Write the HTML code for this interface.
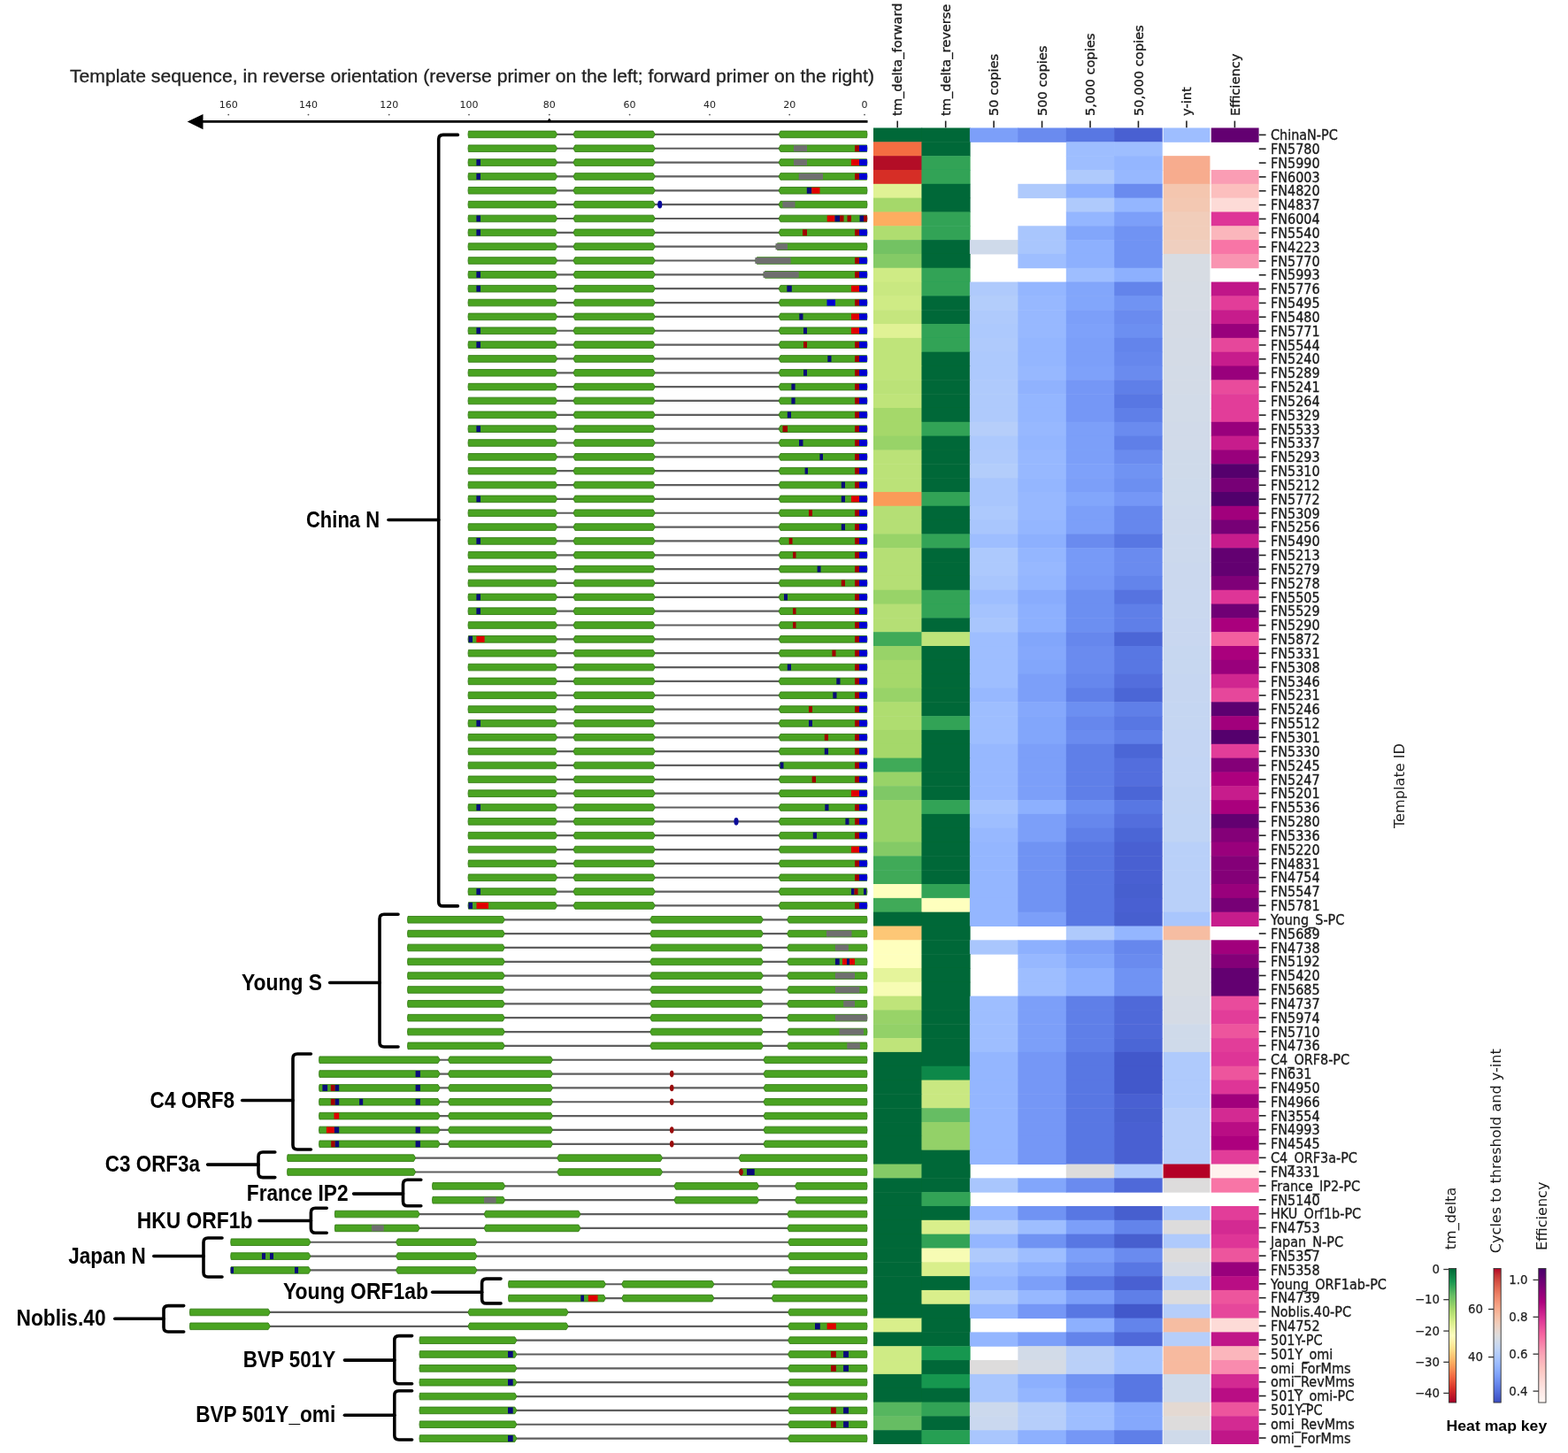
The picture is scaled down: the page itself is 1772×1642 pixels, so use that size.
<!DOCTYPE html>
<html><head><meta charset="utf-8"><title>Template sequence alignment and heat map</title>
<style>
html,body{margin:0;padding:0;background:#fff;}
body{width:1772px;height:1642px;overflow:hidden;}
svg{display:block;}
.hd{font-family:"DejaVu Sans","Liberation Sans",sans-serif;font-size:14.6px;fill:#1a1a1a;stroke:#1a1a1a;stroke-width:0.35px;}
.rl{font-family:"DejaVu Sans","Liberation Sans",sans-serif;font-size:15.6px;fill:#1a1a1a;stroke:#1a1a1a;stroke-width:0.35px;}
.gl{font-family:"Liberation Sans",Arial,sans-serif;font-weight:bold;font-size:26.5px;fill:#000;}
.tk{font-family:"DejaVu Sans","Liberation Sans",sans-serif;font-size:11px;fill:#222;}
.tt{font-family:"Liberation Sans",Arial,sans-serif;font-size:20.5px;fill:#222;stroke:#222;stroke-width:0.3px;}
.ti{font-family:"DejaVu Sans","Liberation Sans",sans-serif;font-size:15.5px;fill:#222;}
.cb{font-family:"DejaVu Sans","Liberation Sans",sans-serif;font-size:13.3px;fill:#222;stroke:#222;stroke-width:0.25px;}
.cl{font-family:"DejaVu Sans","Liberation Sans",sans-serif;font-size:15.5px;fill:#1a1a1a;}
.hk{font-family:"Liberation Sans",Arial,sans-serif;font-weight:bold;font-size:16.5px;fill:#000;}
</style></head><body>
<svg width="1772" height="1642" viewBox="0 0 1772 1642">
<defs><filter id="soft" x="-1%" y="-1%" width="102%" height="102%"><feGaussianBlur stdDeviation="0.7"/></filter></defs>
<rect width="1772" height="1642" fill="#fff"/>
<g id="heat" filter="url(#soft)">
<rect x="987" y="144.5" width="55.15" height="16.32" fill="#006837"/>
<rect x="1041.45" y="144.5" width="55.15" height="16.32" fill="#006837"/>
<rect x="1095.9" y="144.5" width="55.15" height="16.32" fill="#7b9ff9"/>
<rect x="1150.35" y="144.5" width="55.15" height="16.32" fill="#6a8bef"/>
<rect x="1204.8" y="144.5" width="55.15" height="16.32" fill="#5977e3"/>
<rect x="1259.25" y="144.5" width="54.45" height="16.32" fill="#4961d2"/>
<rect x="1314.6" y="144.5" width="52.85" height="16.32" fill="#9ebeff"/>
<rect x="1368.75" y="144.5" width="53.85" height="16.32" fill="#630171"/>
<rect x="987" y="160.32" width="55.15" height="16.32" fill="#f46d43"/>
<rect x="1041.45" y="160.32" width="55.15" height="16.32" fill="#006837"/>
<rect x="1204.8" y="160.32" width="55.15" height="16.32" fill="#9ebeff"/>
<rect x="1259.25" y="160.32" width="54.45" height="16.32" fill="#9ebeff"/>
<rect x="987" y="176.15" width="55.15" height="16.32" fill="#b30d26"/>
<rect x="1041.45" y="176.15" width="55.15" height="16.32" fill="#30a356"/>
<rect x="1204.8" y="176.15" width="55.15" height="16.32" fill="#9ebeff"/>
<rect x="1259.25" y="176.15" width="54.45" height="16.32" fill="#94b6ff"/>
<rect x="1314.6" y="176.15" width="52.85" height="16.32" fill="#f7ac8e"/>
<rect x="987" y="191.97" width="55.15" height="16.32" fill="#d62f27"/>
<rect x="1041.45" y="191.97" width="55.15" height="16.32" fill="#30a356"/>
<rect x="1204.8" y="191.97" width="55.15" height="16.32" fill="#afcafc"/>
<rect x="1259.25" y="191.97" width="54.45" height="16.32" fill="#97b8ff"/>
<rect x="1314.6" y="191.97" width="52.85" height="16.32" fill="#f7ac8e"/>
<rect x="1368.75" y="191.97" width="53.85" height="16.32" fill="#fa9db4"/>
<rect x="987" y="207.8" width="55.15" height="16.32" fill="#e0f295"/>
<rect x="1041.45" y="207.8" width="55.15" height="16.32" fill="#006837"/>
<rect x="1150.35" y="207.8" width="55.15" height="16.32" fill="#afcafc"/>
<rect x="1204.8" y="207.8" width="55.15" height="16.32" fill="#8db0fe"/>
<rect x="1259.25" y="207.8" width="54.45" height="16.32" fill="#6a8bef"/>
<rect x="1314.6" y="207.8" width="52.85" height="16.32" fill="#f4c6af"/>
<rect x="1368.75" y="207.8" width="53.85" height="16.32" fill="#fcbfbe"/>
<rect x="987" y="223.62" width="55.15" height="16.32" fill="#a5d86a"/>
<rect x="1041.45" y="223.62" width="55.15" height="16.32" fill="#006837"/>
<rect x="1204.8" y="223.62" width="55.15" height="16.32" fill="#afcafc"/>
<rect x="1259.25" y="223.62" width="54.45" height="16.32" fill="#94b6ff"/>
<rect x="1314.6" y="223.62" width="52.85" height="16.32" fill="#f3c8b2"/>
<rect x="1368.75" y="223.62" width="53.85" height="16.32" fill="#fddbd7"/>
<rect x="987" y="239.45" width="55.15" height="16.32" fill="#fdad60"/>
<rect x="1041.45" y="239.45" width="55.15" height="16.32" fill="#30a356"/>
<rect x="1204.8" y="239.45" width="55.15" height="16.32" fill="#94b6ff"/>
<rect x="1259.25" y="239.45" width="54.45" height="16.32" fill="#7b9ff9"/>
<rect x="1314.6" y="239.45" width="52.85" height="16.32" fill="#f1cdba"/>
<rect x="1368.75" y="239.45" width="53.85" height="16.32" fill="#de3697"/>
<rect x="987" y="255.27" width="55.15" height="16.32" fill="#afdd70"/>
<rect x="1041.45" y="255.27" width="55.15" height="16.32" fill="#30a356"/>
<rect x="1150.35" y="255.27" width="55.15" height="16.32" fill="#a9c6fd"/>
<rect x="1204.8" y="255.27" width="55.15" height="16.32" fill="#82a6fb"/>
<rect x="1259.25" y="255.27" width="54.45" height="16.32" fill="#7093f3"/>
<rect x="1314.6" y="255.27" width="52.85" height="16.32" fill="#f1cdba"/>
<rect x="1368.75" y="255.27" width="53.85" height="16.32" fill="#fbb6bc"/>
<rect x="987" y="271.1" width="55.15" height="16.32" fill="#73c264"/>
<rect x="1041.45" y="271.1" width="55.15" height="16.32" fill="#006837"/>
<rect x="1095.9" y="271.1" width="55.15" height="16.32" fill="#cfdaea"/>
<rect x="1150.35" y="271.1" width="55.15" height="16.32" fill="#a9c6fd"/>
<rect x="1204.8" y="271.1" width="55.15" height="16.32" fill="#8db0fe"/>
<rect x="1259.25" y="271.1" width="54.45" height="16.32" fill="#7093f3"/>
<rect x="1314.6" y="271.1" width="52.85" height="16.32" fill="#efcfbf"/>
<rect x="1368.75" y="271.1" width="53.85" height="16.32" fill="#f875a6"/>
<rect x="987" y="286.92" width="55.15" height="16.32" fill="#84ca66"/>
<rect x="1041.45" y="286.92" width="55.15" height="16.32" fill="#006837"/>
<rect x="1150.35" y="286.92" width="55.15" height="16.32" fill="#9ebeff"/>
<rect x="1204.8" y="286.92" width="55.15" height="16.32" fill="#8db0fe"/>
<rect x="1259.25" y="286.92" width="54.45" height="16.32" fill="#7093f3"/>
<rect x="1314.6" y="286.92" width="52.85" height="16.32" fill="#d7dce3"/>
<rect x="1368.75" y="286.92" width="53.85" height="16.32" fill="#f994b1"/>
<rect x="987" y="302.74" width="55.15" height="16.32" fill="#cfeb85"/>
<rect x="1041.45" y="302.74" width="55.15" height="16.32" fill="#30a356"/>
<rect x="1204.8" y="302.74" width="55.15" height="16.32" fill="#9ebeff"/>
<rect x="1259.25" y="302.74" width="54.45" height="16.32" fill="#8db0fe"/>
<rect x="1314.6" y="302.74" width="52.85" height="16.32" fill="#d7dce3"/>
<rect x="987" y="318.57" width="55.15" height="16.32" fill="#c9e881"/>
<rect x="1041.45" y="318.57" width="55.15" height="16.32" fill="#30a356"/>
<rect x="1095.9" y="318.57" width="55.15" height="16.32" fill="#afcafc"/>
<rect x="1150.35" y="318.57" width="55.15" height="16.32" fill="#94b6ff"/>
<rect x="1204.8" y="318.57" width="55.15" height="16.32" fill="#82a6fb"/>
<rect x="1259.25" y="318.57" width="54.45" height="16.32" fill="#6384eb"/>
<rect x="1314.6" y="318.57" width="52.85" height="16.32" fill="#d6dce4"/>
<rect x="1368.75" y="318.57" width="53.85" height="16.32" fill="#c01588"/>
<rect x="987" y="334.39" width="55.15" height="16.32" fill="#cfeb85"/>
<rect x="1041.45" y="334.39" width="55.15" height="16.32" fill="#006837"/>
<rect x="1095.9" y="334.39" width="55.15" height="16.32" fill="#b3cdfb"/>
<rect x="1150.35" y="334.39" width="55.15" height="16.32" fill="#97b8ff"/>
<rect x="1204.8" y="334.39" width="55.15" height="16.32" fill="#82a6fb"/>
<rect x="1259.25" y="334.39" width="54.45" height="16.32" fill="#7093f3"/>
<rect x="1314.6" y="334.39" width="52.85" height="16.32" fill="#d6dce4"/>
<rect x="1368.75" y="334.39" width="53.85" height="16.32" fill="#e23e99"/>
<rect x="987" y="350.22" width="55.15" height="16.32" fill="#c5e67e"/>
<rect x="1041.45" y="350.22" width="55.15" height="16.32" fill="#006837"/>
<rect x="1095.9" y="350.22" width="55.15" height="16.32" fill="#afcafc"/>
<rect x="1150.35" y="350.22" width="55.15" height="16.32" fill="#97b8ff"/>
<rect x="1204.8" y="350.22" width="55.15" height="16.32" fill="#7b9ff9"/>
<rect x="1259.25" y="350.22" width="54.45" height="16.32" fill="#6a8bef"/>
<rect x="1314.6" y="350.22" width="52.85" height="16.32" fill="#d5dbe5"/>
<rect x="1368.75" y="350.22" width="53.85" height="16.32" fill="#c71d8c"/>
<rect x="987" y="366.04" width="55.15" height="16.32" fill="#e0f295"/>
<rect x="1041.45" y="366.04" width="55.15" height="16.32" fill="#30a356"/>
<rect x="1095.9" y="366.04" width="55.15" height="16.32" fill="#adc9fd"/>
<rect x="1150.35" y="366.04" width="55.15" height="16.32" fill="#97b8ff"/>
<rect x="1204.8" y="366.04" width="55.15" height="16.32" fill="#7ea1fa"/>
<rect x="1259.25" y="366.04" width="54.45" height="16.32" fill="#6c8ff1"/>
<rect x="1314.6" y="366.04" width="52.85" height="16.32" fill="#d5dbe5"/>
<rect x="1368.75" y="366.04" width="53.85" height="16.32" fill="#99017b"/>
<rect x="987" y="381.87" width="55.15" height="16.32" fill="#bfe47a"/>
<rect x="1041.45" y="381.87" width="55.15" height="16.32" fill="#30a356"/>
<rect x="1095.9" y="381.87" width="55.15" height="16.32" fill="#afcafc"/>
<rect x="1150.35" y="381.87" width="55.15" height="16.32" fill="#94b6ff"/>
<rect x="1204.8" y="381.87" width="55.15" height="16.32" fill="#7b9ff9"/>
<rect x="1259.25" y="381.87" width="54.45" height="16.32" fill="#6384eb"/>
<rect x="1314.6" y="381.87" width="52.85" height="16.32" fill="#d4dbe6"/>
<rect x="1368.75" y="381.87" width="53.85" height="16.32" fill="#e6479b"/>
<rect x="987" y="397.69" width="55.15" height="16.32" fill="#bfe47a"/>
<rect x="1041.45" y="397.69" width="55.15" height="16.32" fill="#006837"/>
<rect x="1095.9" y="397.69" width="55.15" height="16.32" fill="#adc9fd"/>
<rect x="1150.35" y="397.69" width="55.15" height="16.32" fill="#94b6ff"/>
<rect x="1204.8" y="397.69" width="55.15" height="16.32" fill="#7b9ff9"/>
<rect x="1259.25" y="397.69" width="54.45" height="16.32" fill="#6687ed"/>
<rect x="1314.6" y="397.69" width="52.85" height="16.32" fill="#d4dbe6"/>
<rect x="1368.75" y="397.69" width="53.85" height="16.32" fill="#c71d8c"/>
<rect x="987" y="413.52" width="55.15" height="16.32" fill="#bfe47a"/>
<rect x="1041.45" y="413.52" width="55.15" height="16.32" fill="#006837"/>
<rect x="1095.9" y="413.52" width="55.15" height="16.32" fill="#adc9fd"/>
<rect x="1150.35" y="413.52" width="55.15" height="16.32" fill="#97b8ff"/>
<rect x="1204.8" y="413.52" width="55.15" height="16.32" fill="#7ea1fa"/>
<rect x="1259.25" y="413.52" width="54.45" height="16.32" fill="#6a8bef"/>
<rect x="1314.6" y="413.52" width="52.85" height="16.32" fill="#d3dbe7"/>
<rect x="1368.75" y="413.52" width="53.85" height="16.32" fill="#99017b"/>
<rect x="987" y="429.34" width="55.15" height="16.32" fill="#bbe278"/>
<rect x="1041.45" y="429.34" width="55.15" height="16.32" fill="#006837"/>
<rect x="1095.9" y="429.34" width="55.15" height="16.32" fill="#afcafc"/>
<rect x="1150.35" y="429.34" width="55.15" height="16.32" fill="#90b2fe"/>
<rect x="1204.8" y="429.34" width="55.15" height="16.32" fill="#7597f6"/>
<rect x="1259.25" y="429.34" width="54.45" height="16.32" fill="#5f7fe8"/>
<rect x="1314.6" y="429.34" width="52.85" height="16.32" fill="#d3dbe7"/>
<rect x="1368.75" y="429.34" width="53.85" height="16.32" fill="#e94b9c"/>
<rect x="987" y="445.16" width="55.15" height="16.32" fill="#bfe47a"/>
<rect x="1041.45" y="445.16" width="55.15" height="16.32" fill="#006837"/>
<rect x="1095.9" y="445.16" width="55.15" height="16.32" fill="#afcafc"/>
<rect x="1150.35" y="445.16" width="55.15" height="16.32" fill="#94b6ff"/>
<rect x="1204.8" y="445.16" width="55.15" height="16.32" fill="#7597f6"/>
<rect x="1259.25" y="445.16" width="54.45" height="16.32" fill="#5977e3"/>
<rect x="1314.6" y="445.16" width="52.85" height="16.32" fill="#d2dbe8"/>
<rect x="1368.75" y="445.16" width="53.85" height="16.32" fill="#e23e99"/>
<rect x="987" y="460.99" width="55.15" height="16.32" fill="#a5d86a"/>
<rect x="1041.45" y="460.99" width="55.15" height="16.32" fill="#006837"/>
<rect x="1095.9" y="460.99" width="55.15" height="16.32" fill="#afcafc"/>
<rect x="1150.35" y="460.99" width="55.15" height="16.32" fill="#94b6ff"/>
<rect x="1204.8" y="460.99" width="55.15" height="16.32" fill="#7597f6"/>
<rect x="1259.25" y="460.99" width="54.45" height="16.32" fill="#5f7fe8"/>
<rect x="1314.6" y="460.99" width="52.85" height="16.32" fill="#d2dbe8"/>
<rect x="1368.75" y="460.99" width="53.85" height="16.32" fill="#e23e99"/>
<rect x="987" y="476.81" width="55.15" height="16.32" fill="#a5d86a"/>
<rect x="1041.45" y="476.81" width="55.15" height="16.32" fill="#30a356"/>
<rect x="1095.9" y="476.81" width="55.15" height="16.32" fill="#b6cefa"/>
<rect x="1150.35" y="476.81" width="55.15" height="16.32" fill="#97b8ff"/>
<rect x="1204.8" y="476.81" width="55.15" height="16.32" fill="#7b9ff9"/>
<rect x="1259.25" y="476.81" width="54.45" height="16.32" fill="#6a8bef"/>
<rect x="1314.6" y="476.81" width="52.85" height="16.32" fill="#d1dae9"/>
<rect x="1368.75" y="476.81" width="53.85" height="16.32" fill="#99017b"/>
<rect x="987" y="492.64" width="55.15" height="16.32" fill="#98d368"/>
<rect x="1041.45" y="492.64" width="55.15" height="16.32" fill="#006837"/>
<rect x="1095.9" y="492.64" width="55.15" height="16.32" fill="#adc9fd"/>
<rect x="1150.35" y="492.64" width="55.15" height="16.32" fill="#94b6ff"/>
<rect x="1204.8" y="492.64" width="55.15" height="16.32" fill="#7b9ff9"/>
<rect x="1259.25" y="492.64" width="54.45" height="16.32" fill="#5f7fe8"/>
<rect x="1314.6" y="492.64" width="52.85" height="16.32" fill="#d1dae9"/>
<rect x="1368.75" y="492.64" width="53.85" height="16.32" fill="#c71d8c"/>
<rect x="987" y="508.46" width="55.15" height="16.32" fill="#bbe278"/>
<rect x="1041.45" y="508.46" width="55.15" height="16.32" fill="#006837"/>
<rect x="1095.9" y="508.46" width="55.15" height="16.32" fill="#afcafc"/>
<rect x="1150.35" y="508.46" width="55.15" height="16.32" fill="#97b8ff"/>
<rect x="1204.8" y="508.46" width="55.15" height="16.32" fill="#7b9ff9"/>
<rect x="1259.25" y="508.46" width="54.45" height="16.32" fill="#6a8bef"/>
<rect x="1314.6" y="508.46" width="52.85" height="16.32" fill="#cfdaea"/>
<rect x="1368.75" y="508.46" width="53.85" height="16.32" fill="#99017b"/>
<rect x="987" y="524.29" width="55.15" height="16.32" fill="#bbe278"/>
<rect x="1041.45" y="524.29" width="55.15" height="16.32" fill="#006837"/>
<rect x="1095.9" y="524.29" width="55.15" height="16.32" fill="#b3cdfb"/>
<rect x="1150.35" y="524.29" width="55.15" height="16.32" fill="#97b8ff"/>
<rect x="1204.8" y="524.29" width="55.15" height="16.32" fill="#7ea1fa"/>
<rect x="1259.25" y="524.29" width="54.45" height="16.32" fill="#7093f3"/>
<rect x="1314.6" y="524.29" width="52.85" height="16.32" fill="#cfdaea"/>
<rect x="1368.75" y="524.29" width="53.85" height="16.32" fill="#54006d"/>
<rect x="987" y="540.11" width="55.15" height="16.32" fill="#bbe278"/>
<rect x="1041.45" y="540.11" width="55.15" height="16.32" fill="#006837"/>
<rect x="1095.9" y="540.11" width="55.15" height="16.32" fill="#a9c6fd"/>
<rect x="1150.35" y="540.11" width="55.15" height="16.32" fill="#94b6ff"/>
<rect x="1204.8" y="540.11" width="55.15" height="16.32" fill="#7b9ff9"/>
<rect x="1259.25" y="540.11" width="54.45" height="16.32" fill="#6c8ff1"/>
<rect x="1314.6" y="540.11" width="52.85" height="16.32" fill="#cedaeb"/>
<rect x="1368.75" y="540.11" width="53.85" height="16.32" fill="#770176"/>
<rect x="987" y="555.94" width="55.15" height="16.32" fill="#fa9b58"/>
<rect x="1041.45" y="555.94" width="55.15" height="16.32" fill="#30a356"/>
<rect x="1095.9" y="555.94" width="55.15" height="16.32" fill="#a9c6fd"/>
<rect x="1150.35" y="555.94" width="55.15" height="16.32" fill="#97b8ff"/>
<rect x="1204.8" y="555.94" width="55.15" height="16.32" fill="#82a6fb"/>
<rect x="1259.25" y="555.94" width="54.45" height="16.32" fill="#7597f6"/>
<rect x="1314.6" y="555.94" width="52.85" height="16.32" fill="#cedaeb"/>
<rect x="1368.75" y="555.94" width="53.85" height="16.32" fill="#51006c"/>
<rect x="987" y="571.76" width="55.15" height="16.32" fill="#b5df74"/>
<rect x="1041.45" y="571.76" width="55.15" height="16.32" fill="#006837"/>
<rect x="1095.9" y="571.76" width="55.15" height="16.32" fill="#adc9fd"/>
<rect x="1150.35" y="571.76" width="55.15" height="16.32" fill="#97b8ff"/>
<rect x="1204.8" y="571.76" width="55.15" height="16.32" fill="#7b9ff9"/>
<rect x="1259.25" y="571.76" width="54.45" height="16.32" fill="#6687ed"/>
<rect x="1314.6" y="571.76" width="52.85" height="16.32" fill="#cdd9ec"/>
<rect x="1368.75" y="571.76" width="53.85" height="16.32" fill="#a1017c"/>
<rect x="987" y="587.59" width="55.15" height="16.32" fill="#b5df74"/>
<rect x="1041.45" y="587.59" width="55.15" height="16.32" fill="#006837"/>
<rect x="1095.9" y="587.59" width="55.15" height="16.32" fill="#a9c6fd"/>
<rect x="1150.35" y="587.59" width="55.15" height="16.32" fill="#94b6ff"/>
<rect x="1204.8" y="587.59" width="55.15" height="16.32" fill="#7b9ff9"/>
<rect x="1259.25" y="587.59" width="54.45" height="16.32" fill="#6687ed"/>
<rect x="1314.6" y="587.59" width="52.85" height="16.32" fill="#cdd9ec"/>
<rect x="1368.75" y="587.59" width="53.85" height="16.32" fill="#770176"/>
<rect x="987" y="603.41" width="55.15" height="16.32" fill="#98d368"/>
<rect x="1041.45" y="603.41" width="55.15" height="16.32" fill="#30a356"/>
<rect x="1095.9" y="603.41" width="55.15" height="16.32" fill="#9ebeff"/>
<rect x="1150.35" y="603.41" width="55.15" height="16.32" fill="#8db0fe"/>
<rect x="1204.8" y="603.41" width="55.15" height="16.32" fill="#6a8bef"/>
<rect x="1259.25" y="603.41" width="54.45" height="16.32" fill="#5977e3"/>
<rect x="1314.6" y="603.41" width="52.85" height="16.32" fill="#ccd9ed"/>
<rect x="1368.75" y="603.41" width="53.85" height="16.32" fill="#c71d8c"/>
<rect x="987" y="619.23" width="55.15" height="16.32" fill="#b5df74"/>
<rect x="1041.45" y="619.23" width="55.15" height="16.32" fill="#006837"/>
<rect x="1095.9" y="619.23" width="55.15" height="16.32" fill="#adc9fd"/>
<rect x="1150.35" y="619.23" width="55.15" height="16.32" fill="#94b6ff"/>
<rect x="1204.8" y="619.23" width="55.15" height="16.32" fill="#779af7"/>
<rect x="1259.25" y="619.23" width="54.45" height="16.32" fill="#6a8bef"/>
<rect x="1314.6" y="619.23" width="52.85" height="16.32" fill="#ccd9ed"/>
<rect x="1368.75" y="619.23" width="53.85" height="16.32" fill="#630171"/>
<rect x="987" y="635.06" width="55.15" height="16.32" fill="#b5df74"/>
<rect x="1041.45" y="635.06" width="55.15" height="16.32" fill="#006837"/>
<rect x="1095.9" y="635.06" width="55.15" height="16.32" fill="#adc9fd"/>
<rect x="1150.35" y="635.06" width="55.15" height="16.32" fill="#97b8ff"/>
<rect x="1204.8" y="635.06" width="55.15" height="16.32" fill="#779af7"/>
<rect x="1259.25" y="635.06" width="54.45" height="16.32" fill="#6a8bef"/>
<rect x="1314.6" y="635.06" width="52.85" height="16.32" fill="#cbd8ee"/>
<rect x="1368.75" y="635.06" width="53.85" height="16.32" fill="#630171"/>
<rect x="987" y="650.88" width="55.15" height="16.32" fill="#b5df74"/>
<rect x="1041.45" y="650.88" width="55.15" height="16.32" fill="#006837"/>
<rect x="1095.9" y="650.88" width="55.15" height="16.32" fill="#a9c6fd"/>
<rect x="1150.35" y="650.88" width="55.15" height="16.32" fill="#94b6ff"/>
<rect x="1204.8" y="650.88" width="55.15" height="16.32" fill="#7597f6"/>
<rect x="1259.25" y="650.88" width="54.45" height="16.32" fill="#6384eb"/>
<rect x="1314.6" y="650.88" width="52.85" height="16.32" fill="#cbd8ee"/>
<rect x="1368.75" y="650.88" width="53.85" height="16.32" fill="#7f0178"/>
<rect x="987" y="666.71" width="55.15" height="16.32" fill="#98d368"/>
<rect x="1041.45" y="666.71" width="55.15" height="16.32" fill="#30a356"/>
<rect x="1095.9" y="666.71" width="55.15" height="16.32" fill="#9ebeff"/>
<rect x="1150.35" y="666.71" width="55.15" height="16.32" fill="#89acfd"/>
<rect x="1204.8" y="666.71" width="55.15" height="16.32" fill="#6c8ff1"/>
<rect x="1259.25" y="666.71" width="54.45" height="16.32" fill="#5673e0"/>
<rect x="1314.6" y="666.71" width="52.85" height="16.32" fill="#cad8ef"/>
<rect x="1368.75" y="666.71" width="53.85" height="16.32" fill="#de3697"/>
<rect x="987" y="682.53" width="55.15" height="16.32" fill="#b5df74"/>
<rect x="1041.45" y="682.53" width="55.15" height="16.32" fill="#30a356"/>
<rect x="1095.9" y="682.53" width="55.15" height="16.32" fill="#a5c3fe"/>
<rect x="1150.35" y="682.53" width="55.15" height="16.32" fill="#8db0fe"/>
<rect x="1204.8" y="682.53" width="55.15" height="16.32" fill="#6c8ff1"/>
<rect x="1259.25" y="682.53" width="54.45" height="16.32" fill="#5f7fe8"/>
<rect x="1314.6" y="682.53" width="52.85" height="16.32" fill="#cad8ef"/>
<rect x="1368.75" y="682.53" width="53.85" height="16.32" fill="#6f0174"/>
<rect x="987" y="698.36" width="55.15" height="16.32" fill="#b5df74"/>
<rect x="1041.45" y="698.36" width="55.15" height="16.32" fill="#006837"/>
<rect x="1095.9" y="698.36" width="55.15" height="16.32" fill="#a9c6fd"/>
<rect x="1150.35" y="698.36" width="55.15" height="16.32" fill="#8db0fe"/>
<rect x="1204.8" y="698.36" width="55.15" height="16.32" fill="#6c8ff1"/>
<rect x="1259.25" y="698.36" width="54.45" height="16.32" fill="#5f7fe8"/>
<rect x="1314.6" y="698.36" width="52.85" height="16.32" fill="#c9d7f0"/>
<rect x="1368.75" y="698.36" width="53.85" height="16.32" fill="#aa017d"/>
<rect x="987" y="714.18" width="55.15" height="16.32" fill="#3faa59"/>
<rect x="1041.45" y="714.18" width="55.15" height="16.32" fill="#bfe47a"/>
<rect x="1095.9" y="714.18" width="55.15" height="16.32" fill="#9ebeff"/>
<rect x="1150.35" y="714.18" width="55.15" height="16.32" fill="#82a6fb"/>
<rect x="1204.8" y="714.18" width="55.15" height="16.32" fill="#6687ed"/>
<rect x="1259.25" y="714.18" width="54.45" height="16.32" fill="#4c66d6"/>
<rect x="1314.6" y="714.18" width="52.85" height="16.32" fill="#c9d7f0"/>
<rect x="1368.75" y="714.18" width="53.85" height="16.32" fill="#f35f9f"/>
<rect x="987" y="730.01" width="55.15" height="16.32" fill="#98d368"/>
<rect x="1041.45" y="730.01" width="55.15" height="16.32" fill="#006837"/>
<rect x="1095.9" y="730.01" width="55.15" height="16.32" fill="#9ebeff"/>
<rect x="1150.35" y="730.01" width="55.15" height="16.32" fill="#85a8fc"/>
<rect x="1204.8" y="730.01" width="55.15" height="16.32" fill="#6a8bef"/>
<rect x="1259.25" y="730.01" width="54.45" height="16.32" fill="#5977e3"/>
<rect x="1314.6" y="730.01" width="52.85" height="16.32" fill="#c7d7f0"/>
<rect x="1368.75" y="730.01" width="53.85" height="16.32" fill="#aa017d"/>
<rect x="987" y="745.83" width="55.15" height="16.32" fill="#a5d86a"/>
<rect x="1041.45" y="745.83" width="55.15" height="16.32" fill="#006837"/>
<rect x="1095.9" y="745.83" width="55.15" height="16.32" fill="#9ebeff"/>
<rect x="1150.35" y="745.83" width="55.15" height="16.32" fill="#82a6fb"/>
<rect x="1204.8" y="745.83" width="55.15" height="16.32" fill="#6a8bef"/>
<rect x="1259.25" y="745.83" width="54.45" height="16.32" fill="#5977e3"/>
<rect x="1314.6" y="745.83" width="52.85" height="16.32" fill="#c7d7f0"/>
<rect x="1368.75" y="745.83" width="53.85" height="16.32" fill="#99017b"/>
<rect x="987" y="761.65" width="55.15" height="16.32" fill="#a5d86a"/>
<rect x="1041.45" y="761.65" width="55.15" height="16.32" fill="#006837"/>
<rect x="1095.9" y="761.65" width="55.15" height="16.32" fill="#9ebeff"/>
<rect x="1150.35" y="761.65" width="55.15" height="16.32" fill="#7b9ff9"/>
<rect x="1204.8" y="761.65" width="55.15" height="16.32" fill="#6687ed"/>
<rect x="1259.25" y="761.65" width="54.45" height="16.32" fill="#536edd"/>
<rect x="1314.6" y="761.65" width="52.85" height="16.32" fill="#c6d6f1"/>
<rect x="1368.75" y="761.65" width="53.85" height="16.32" fill="#d02690"/>
<rect x="987" y="777.48" width="55.15" height="16.32" fill="#98d368"/>
<rect x="1041.45" y="777.48" width="55.15" height="16.32" fill="#006837"/>
<rect x="1095.9" y="777.48" width="55.15" height="16.32" fill="#97b8ff"/>
<rect x="1150.35" y="777.48" width="55.15" height="16.32" fill="#7b9ff9"/>
<rect x="1204.8" y="777.48" width="55.15" height="16.32" fill="#5f7fe8"/>
<rect x="1259.25" y="777.48" width="54.45" height="16.32" fill="#4c66d6"/>
<rect x="1314.6" y="777.48" width="52.85" height="16.32" fill="#c6d6f1"/>
<rect x="1368.75" y="777.48" width="53.85" height="16.32" fill="#e6479b"/>
<rect x="987" y="793.3" width="55.15" height="16.32" fill="#afdd70"/>
<rect x="1041.45" y="793.3" width="55.15" height="16.32" fill="#006837"/>
<rect x="1095.9" y="793.3" width="55.15" height="16.32" fill="#9ebeff"/>
<rect x="1150.35" y="793.3" width="55.15" height="16.32" fill="#85a8fc"/>
<rect x="1204.8" y="793.3" width="55.15" height="16.32" fill="#6c8ff1"/>
<rect x="1259.25" y="793.3" width="54.45" height="16.32" fill="#5f7fe8"/>
<rect x="1314.6" y="793.3" width="52.85" height="16.32" fill="#c5d6f2"/>
<rect x="1368.75" y="793.3" width="53.85" height="16.32" fill="#5b006f"/>
<rect x="987" y="809.13" width="55.15" height="16.32" fill="#afdd70"/>
<rect x="1041.45" y="809.13" width="55.15" height="16.32" fill="#30a356"/>
<rect x="1095.9" y="809.13" width="55.15" height="16.32" fill="#9ebeff"/>
<rect x="1150.35" y="809.13" width="55.15" height="16.32" fill="#82a6fb"/>
<rect x="1204.8" y="809.13" width="55.15" height="16.32" fill="#6687ed"/>
<rect x="1259.25" y="809.13" width="54.45" height="16.32" fill="#5977e3"/>
<rect x="1314.6" y="809.13" width="52.85" height="16.32" fill="#c5d6f2"/>
<rect x="1368.75" y="809.13" width="53.85" height="16.32" fill="#a1017c"/>
<rect x="987" y="824.95" width="55.15" height="16.32" fill="#a5d86a"/>
<rect x="1041.45" y="824.95" width="55.15" height="16.32" fill="#006837"/>
<rect x="1095.9" y="824.95" width="55.15" height="16.32" fill="#9ebeff"/>
<rect x="1150.35" y="824.95" width="55.15" height="16.32" fill="#82a6fb"/>
<rect x="1204.8" y="824.95" width="55.15" height="16.32" fill="#6a8bef"/>
<rect x="1259.25" y="824.95" width="54.45" height="16.32" fill="#5f7fe8"/>
<rect x="1314.6" y="824.95" width="52.85" height="16.32" fill="#c4d5f3"/>
<rect x="1368.75" y="824.95" width="53.85" height="16.32" fill="#54006d"/>
<rect x="987" y="840.78" width="55.15" height="16.32" fill="#a5d86a"/>
<rect x="1041.45" y="840.78" width="55.15" height="16.32" fill="#006837"/>
<rect x="1095.9" y="840.78" width="55.15" height="16.32" fill="#97b8ff"/>
<rect x="1150.35" y="840.78" width="55.15" height="16.32" fill="#7b9ff9"/>
<rect x="1204.8" y="840.78" width="55.15" height="16.32" fill="#5f7fe8"/>
<rect x="1259.25" y="840.78" width="54.45" height="16.32" fill="#4c66d6"/>
<rect x="1314.6" y="840.78" width="52.85" height="16.32" fill="#c4d5f3"/>
<rect x="1368.75" y="840.78" width="53.85" height="16.32" fill="#e23e99"/>
<rect x="987" y="856.6" width="55.15" height="16.32" fill="#3faa59"/>
<rect x="1041.45" y="856.6" width="55.15" height="16.32" fill="#006837"/>
<rect x="1095.9" y="856.6" width="55.15" height="16.32" fill="#97b8ff"/>
<rect x="1150.35" y="856.6" width="55.15" height="16.32" fill="#7b9ff9"/>
<rect x="1204.8" y="856.6" width="55.15" height="16.32" fill="#5f7fe8"/>
<rect x="1259.25" y="856.6" width="54.45" height="16.32" fill="#536edd"/>
<rect x="1314.6" y="856.6" width="52.85" height="16.32" fill="#c3d5f4"/>
<rect x="1368.75" y="856.6" width="53.85" height="16.32" fill="#840178"/>
<rect x="987" y="872.43" width="55.15" height="16.32" fill="#98d368"/>
<rect x="1041.45" y="872.43" width="55.15" height="16.32" fill="#006837"/>
<rect x="1095.9" y="872.43" width="55.15" height="16.32" fill="#97b8ff"/>
<rect x="1150.35" y="872.43" width="55.15" height="16.32" fill="#7b9ff9"/>
<rect x="1204.8" y="872.43" width="55.15" height="16.32" fill="#5f7fe8"/>
<rect x="1259.25" y="872.43" width="54.45" height="16.32" fill="#536edd"/>
<rect x="1314.6" y="872.43" width="52.85" height="16.32" fill="#c3d5f4"/>
<rect x="1368.75" y="872.43" width="53.85" height="16.32" fill="#ad017e"/>
<rect x="987" y="888.25" width="55.15" height="16.32" fill="#7fc866"/>
<rect x="1041.45" y="888.25" width="55.15" height="16.32" fill="#006837"/>
<rect x="1095.9" y="888.25" width="55.15" height="16.32" fill="#97b8ff"/>
<rect x="1150.35" y="888.25" width="55.15" height="16.32" fill="#7b9ff9"/>
<rect x="1204.8" y="888.25" width="55.15" height="16.32" fill="#5f7fe8"/>
<rect x="1259.25" y="888.25" width="54.45" height="16.32" fill="#4c66d6"/>
<rect x="1314.6" y="888.25" width="52.85" height="16.32" fill="#c1d4f4"/>
<rect x="1368.75" y="888.25" width="53.85" height="16.32" fill="#c71d8c"/>
<rect x="987" y="904.07" width="55.15" height="16.32" fill="#98d368"/>
<rect x="1041.45" y="904.07" width="55.15" height="16.32" fill="#30a356"/>
<rect x="1095.9" y="904.07" width="55.15" height="16.32" fill="#a5c3fe"/>
<rect x="1150.35" y="904.07" width="55.15" height="16.32" fill="#8db0fe"/>
<rect x="1204.8" y="904.07" width="55.15" height="16.32" fill="#6c8ff1"/>
<rect x="1259.25" y="904.07" width="54.45" height="16.32" fill="#5977e3"/>
<rect x="1314.6" y="904.07" width="52.85" height="16.32" fill="#c1d4f4"/>
<rect x="1368.75" y="904.07" width="53.85" height="16.32" fill="#aa017d"/>
<rect x="987" y="919.9" width="55.15" height="16.32" fill="#98d368"/>
<rect x="1041.45" y="919.9" width="55.15" height="16.32" fill="#006837"/>
<rect x="1095.9" y="919.9" width="55.15" height="16.32" fill="#9ebeff"/>
<rect x="1150.35" y="919.9" width="55.15" height="16.32" fill="#7b9ff9"/>
<rect x="1204.8" y="919.9" width="55.15" height="16.32" fill="#6687ed"/>
<rect x="1259.25" y="919.9" width="54.45" height="16.32" fill="#536edd"/>
<rect x="1314.6" y="919.9" width="52.85" height="16.32" fill="#c0d4f5"/>
<rect x="1368.75" y="919.9" width="53.85" height="16.32" fill="#630171"/>
<rect x="987" y="935.72" width="55.15" height="16.32" fill="#98d368"/>
<rect x="1041.45" y="935.72" width="55.15" height="16.32" fill="#006837"/>
<rect x="1095.9" y="935.72" width="55.15" height="16.32" fill="#97b8ff"/>
<rect x="1150.35" y="935.72" width="55.15" height="16.32" fill="#7b9ff9"/>
<rect x="1204.8" y="935.72" width="55.15" height="16.32" fill="#5f7fe8"/>
<rect x="1259.25" y="935.72" width="54.45" height="16.32" fill="#4c66d6"/>
<rect x="1314.6" y="935.72" width="52.85" height="16.32" fill="#c0d4f5"/>
<rect x="1368.75" y="935.72" width="53.85" height="16.32" fill="#840178"/>
<rect x="987" y="951.55" width="55.15" height="16.32" fill="#84ca66"/>
<rect x="1041.45" y="951.55" width="55.15" height="16.32" fill="#006837"/>
<rect x="1095.9" y="951.55" width="55.15" height="16.32" fill="#94b6ff"/>
<rect x="1150.35" y="951.55" width="55.15" height="16.32" fill="#7093f3"/>
<rect x="1204.8" y="951.55" width="55.15" height="16.32" fill="#5977e3"/>
<rect x="1259.25" y="951.55" width="54.45" height="16.32" fill="#4961d2"/>
<rect x="1314.6" y="951.55" width="52.85" height="16.32" fill="#b9d0f9"/>
<rect x="1368.75" y="951.55" width="53.85" height="16.32" fill="#99017b"/>
<rect x="987" y="967.37" width="55.15" height="16.32" fill="#3faa59"/>
<rect x="1041.45" y="967.37" width="55.15" height="16.32" fill="#006837"/>
<rect x="1095.9" y="967.37" width="55.15" height="16.32" fill="#94b6ff"/>
<rect x="1150.35" y="967.37" width="55.15" height="16.32" fill="#7093f3"/>
<rect x="1204.8" y="967.37" width="55.15" height="16.32" fill="#5977e3"/>
<rect x="1259.25" y="967.37" width="54.45" height="16.32" fill="#4961d2"/>
<rect x="1314.6" y="967.37" width="52.85" height="16.32" fill="#b9d0f9"/>
<rect x="1368.75" y="967.37" width="53.85" height="16.32" fill="#840178"/>
<rect x="987" y="983.2" width="55.15" height="16.32" fill="#3faa59"/>
<rect x="1041.45" y="983.2" width="55.15" height="16.32" fill="#006837"/>
<rect x="1095.9" y="983.2" width="55.15" height="16.32" fill="#94b6ff"/>
<rect x="1150.35" y="983.2" width="55.15" height="16.32" fill="#7093f3"/>
<rect x="1204.8" y="983.2" width="55.15" height="16.32" fill="#5977e3"/>
<rect x="1259.25" y="983.2" width="54.45" height="16.32" fill="#4961d2"/>
<rect x="1314.6" y="983.2" width="52.85" height="16.32" fill="#b9d0f9"/>
<rect x="1368.75" y="983.2" width="53.85" height="16.32" fill="#840178"/>
<rect x="987" y="999.02" width="55.15" height="16.32" fill="#feffbe"/>
<rect x="1041.45" y="999.02" width="55.15" height="16.32" fill="#30a356"/>
<rect x="1095.9" y="999.02" width="55.15" height="16.32" fill="#94b6ff"/>
<rect x="1150.35" y="999.02" width="55.15" height="16.32" fill="#7093f3"/>
<rect x="1204.8" y="999.02" width="55.15" height="16.32" fill="#5977e3"/>
<rect x="1259.25" y="999.02" width="54.45" height="16.32" fill="#465ecf"/>
<rect x="1314.6" y="999.02" width="52.85" height="16.32" fill="#b9d0f9"/>
<rect x="1368.75" y="999.02" width="53.85" height="16.32" fill="#99017b"/>
<rect x="987" y="1014.85" width="55.15" height="16.32" fill="#3faa59"/>
<rect x="1041.45" y="1014.85" width="55.15" height="16.32" fill="#feffbe"/>
<rect x="1095.9" y="1014.85" width="55.15" height="16.32" fill="#94b6ff"/>
<rect x="1150.35" y="1014.85" width="55.15" height="16.32" fill="#7093f3"/>
<rect x="1204.8" y="1014.85" width="55.15" height="16.32" fill="#5977e3"/>
<rect x="1259.25" y="1014.85" width="54.45" height="16.32" fill="#4961d2"/>
<rect x="1314.6" y="1014.85" width="52.85" height="16.32" fill="#b9d0f9"/>
<rect x="1368.75" y="1014.85" width="53.85" height="16.32" fill="#770176"/>
<rect x="987" y="1030.67" width="55.15" height="16.32" fill="#006837"/>
<rect x="1041.45" y="1030.67" width="55.15" height="16.32" fill="#006837"/>
<rect x="1095.9" y="1030.67" width="55.15" height="16.32" fill="#94b6ff"/>
<rect x="1150.35" y="1030.67" width="55.15" height="16.32" fill="#7b9ff9"/>
<rect x="1204.8" y="1030.67" width="55.15" height="16.32" fill="#5977e3"/>
<rect x="1259.25" y="1030.67" width="54.45" height="16.32" fill="#465ecf"/>
<rect x="1314.6" y="1030.67" width="52.85" height="16.32" fill="#a9c6fd"/>
<rect x="1368.75" y="1030.67" width="53.85" height="16.32" fill="#c71d8c"/>
<rect x="987" y="1046.49" width="55.15" height="16.32" fill="#fdc776"/>
<rect x="1041.45" y="1046.49" width="55.15" height="16.32" fill="#006837"/>
<rect x="1204.8" y="1046.49" width="55.15" height="16.32" fill="#afcafc"/>
<rect x="1259.25" y="1046.49" width="54.45" height="16.32" fill="#94b6ff"/>
<rect x="1314.6" y="1046.49" width="52.85" height="16.32" fill="#f6bda2"/>
<rect x="987" y="1062.32" width="55.15" height="16.32" fill="#feffbe"/>
<rect x="1041.45" y="1062.32" width="55.15" height="16.32" fill="#006837"/>
<rect x="1095.9" y="1062.32" width="55.15" height="16.32" fill="#a9c6fd"/>
<rect x="1150.35" y="1062.32" width="55.15" height="16.32" fill="#8db0fe"/>
<rect x="1204.8" y="1062.32" width="55.15" height="16.32" fill="#7b9ff9"/>
<rect x="1259.25" y="1062.32" width="54.45" height="16.32" fill="#6687ed"/>
<rect x="1314.6" y="1062.32" width="52.85" height="16.32" fill="#d7dce3"/>
<rect x="1368.75" y="1062.32" width="53.85" height="16.32" fill="#a1017c"/>
<rect x="987" y="1078.14" width="55.15" height="16.32" fill="#feffbe"/>
<rect x="1041.45" y="1078.14" width="55.15" height="16.32" fill="#006837"/>
<rect x="1150.35" y="1078.14" width="55.15" height="16.32" fill="#97b8ff"/>
<rect x="1204.8" y="1078.14" width="55.15" height="16.32" fill="#82a6fb"/>
<rect x="1259.25" y="1078.14" width="54.45" height="16.32" fill="#6a8bef"/>
<rect x="1314.6" y="1078.14" width="52.85" height="16.32" fill="#d7dce3"/>
<rect x="1368.75" y="1078.14" width="53.85" height="16.32" fill="#840178"/>
<rect x="987" y="1093.97" width="55.15" height="16.32" fill="#e5f49b"/>
<rect x="1041.45" y="1093.97" width="55.15" height="16.32" fill="#006837"/>
<rect x="1150.35" y="1093.97" width="55.15" height="16.32" fill="#9ebeff"/>
<rect x="1204.8" y="1093.97" width="55.15" height="16.32" fill="#8db0fe"/>
<rect x="1259.25" y="1093.97" width="54.45" height="16.32" fill="#7093f3"/>
<rect x="1314.6" y="1093.97" width="52.85" height="16.32" fill="#d7dce3"/>
<rect x="1368.75" y="1093.97" width="53.85" height="16.32" fill="#630171"/>
<rect x="987" y="1109.79" width="55.15" height="16.32" fill="#f7fcb4"/>
<rect x="1041.45" y="1109.79" width="55.15" height="16.32" fill="#006837"/>
<rect x="1150.35" y="1109.79" width="55.15" height="16.32" fill="#9ebeff"/>
<rect x="1204.8" y="1109.79" width="55.15" height="16.32" fill="#8db0fe"/>
<rect x="1259.25" y="1109.79" width="54.45" height="16.32" fill="#7093f3"/>
<rect x="1314.6" y="1109.79" width="52.85" height="16.32" fill="#d7dce3"/>
<rect x="1368.75" y="1109.79" width="53.85" height="16.32" fill="#630171"/>
<rect x="987" y="1125.62" width="55.15" height="16.32" fill="#bfe47a"/>
<rect x="1041.45" y="1125.62" width="55.15" height="16.32" fill="#006837"/>
<rect x="1095.9" y="1125.62" width="55.15" height="16.32" fill="#9ebeff"/>
<rect x="1150.35" y="1125.62" width="55.15" height="16.32" fill="#7b9ff9"/>
<rect x="1204.8" y="1125.62" width="55.15" height="16.32" fill="#5f7fe8"/>
<rect x="1259.25" y="1125.62" width="54.45" height="16.32" fill="#4f69d9"/>
<rect x="1314.6" y="1125.62" width="52.85" height="16.32" fill="#d5dbe5"/>
<rect x="1368.75" y="1125.62" width="53.85" height="16.32" fill="#e94b9c"/>
<rect x="987" y="1141.44" width="55.15" height="16.32" fill="#98d368"/>
<rect x="1041.45" y="1141.44" width="55.15" height="16.32" fill="#006837"/>
<rect x="1095.9" y="1141.44" width="55.15" height="16.32" fill="#9ebeff"/>
<rect x="1150.35" y="1141.44" width="55.15" height="16.32" fill="#7b9ff9"/>
<rect x="1204.8" y="1141.44" width="55.15" height="16.32" fill="#5f7fe8"/>
<rect x="1259.25" y="1141.44" width="54.45" height="16.32" fill="#4f69d9"/>
<rect x="1314.6" y="1141.44" width="52.85" height="16.32" fill="#d5dbe5"/>
<rect x="1368.75" y="1141.44" width="53.85" height="16.32" fill="#e23e99"/>
<rect x="987" y="1157.27" width="55.15" height="16.32" fill="#93d168"/>
<rect x="1041.45" y="1157.27" width="55.15" height="16.32" fill="#006837"/>
<rect x="1095.9" y="1157.27" width="55.15" height="16.32" fill="#9ebeff"/>
<rect x="1150.35" y="1157.27" width="55.15" height="16.32" fill="#7b9ff9"/>
<rect x="1204.8" y="1157.27" width="55.15" height="16.32" fill="#5f7fe8"/>
<rect x="1259.25" y="1157.27" width="54.45" height="16.32" fill="#4f69d9"/>
<rect x="1314.6" y="1157.27" width="52.85" height="16.32" fill="#cfdaea"/>
<rect x="1368.75" y="1157.27" width="53.85" height="16.32" fill="#ed549d"/>
<rect x="987" y="1173.09" width="55.15" height="16.32" fill="#bfe47a"/>
<rect x="1041.45" y="1173.09" width="55.15" height="16.32" fill="#006837"/>
<rect x="1095.9" y="1173.09" width="55.15" height="16.32" fill="#9ebeff"/>
<rect x="1150.35" y="1173.09" width="55.15" height="16.32" fill="#7b9ff9"/>
<rect x="1204.8" y="1173.09" width="55.15" height="16.32" fill="#5f7fe8"/>
<rect x="1259.25" y="1173.09" width="54.45" height="16.32" fill="#4c66d6"/>
<rect x="1314.6" y="1173.09" width="52.85" height="16.32" fill="#cfdaea"/>
<rect x="1368.75" y="1173.09" width="53.85" height="16.32" fill="#e23e99"/>
<rect x="987" y="1188.91" width="55.15" height="16.32" fill="#006837"/>
<rect x="1041.45" y="1188.91" width="55.15" height="16.32" fill="#006837"/>
<rect x="1095.9" y="1188.91" width="55.15" height="16.32" fill="#94b6ff"/>
<rect x="1150.35" y="1188.91" width="55.15" height="16.32" fill="#7597f6"/>
<rect x="1204.8" y="1188.91" width="55.15" height="16.32" fill="#5977e3"/>
<rect x="1259.25" y="1188.91" width="54.45" height="16.32" fill="#4358cb"/>
<rect x="1314.6" y="1188.91" width="52.85" height="16.32" fill="#afcafc"/>
<rect x="1368.75" y="1188.91" width="53.85" height="16.32" fill="#de3697"/>
<rect x="987" y="1204.74" width="55.15" height="16.32" fill="#006837"/>
<rect x="1041.45" y="1204.74" width="55.15" height="16.32" fill="#118848"/>
<rect x="1095.9" y="1204.74" width="55.15" height="16.32" fill="#94b6ff"/>
<rect x="1150.35" y="1204.74" width="55.15" height="16.32" fill="#7597f6"/>
<rect x="1204.8" y="1204.74" width="55.15" height="16.32" fill="#5977e3"/>
<rect x="1259.25" y="1204.74" width="54.45" height="16.32" fill="#4358cb"/>
<rect x="1314.6" y="1204.74" width="52.85" height="16.32" fill="#afcafc"/>
<rect x="1368.75" y="1204.74" width="53.85" height="16.32" fill="#ed549d"/>
<rect x="987" y="1220.56" width="55.15" height="16.32" fill="#006837"/>
<rect x="1041.45" y="1220.56" width="55.15" height="16.32" fill="#c9e881"/>
<rect x="1095.9" y="1220.56" width="55.15" height="16.32" fill="#94b6ff"/>
<rect x="1150.35" y="1220.56" width="55.15" height="16.32" fill="#7597f6"/>
<rect x="1204.8" y="1220.56" width="55.15" height="16.32" fill="#5977e3"/>
<rect x="1259.25" y="1220.56" width="54.45" height="16.32" fill="#4358cb"/>
<rect x="1314.6" y="1220.56" width="52.85" height="16.32" fill="#afcafc"/>
<rect x="1368.75" y="1220.56" width="53.85" height="16.32" fill="#de3697"/>
<rect x="987" y="1236.39" width="55.15" height="16.32" fill="#006837"/>
<rect x="1041.45" y="1236.39" width="55.15" height="16.32" fill="#c9e881"/>
<rect x="1095.9" y="1236.39" width="55.15" height="16.32" fill="#94b6ff"/>
<rect x="1150.35" y="1236.39" width="55.15" height="16.32" fill="#7597f6"/>
<rect x="1204.8" y="1236.39" width="55.15" height="16.32" fill="#5977e3"/>
<rect x="1259.25" y="1236.39" width="54.45" height="16.32" fill="#4961d2"/>
<rect x="1314.6" y="1236.39" width="52.85" height="16.32" fill="#afcafc"/>
<rect x="1368.75" y="1236.39" width="53.85" height="16.32" fill="#a1017c"/>
<rect x="987" y="1252.21" width="55.15" height="16.32" fill="#006837"/>
<rect x="1041.45" y="1252.21" width="55.15" height="16.32" fill="#66bd63"/>
<rect x="1095.9" y="1252.21" width="55.15" height="16.32" fill="#94b6ff"/>
<rect x="1150.35" y="1252.21" width="55.15" height="16.32" fill="#7597f6"/>
<rect x="1204.8" y="1252.21" width="55.15" height="16.32" fill="#5977e3"/>
<rect x="1259.25" y="1252.21" width="54.45" height="16.32" fill="#465ecf"/>
<rect x="1314.6" y="1252.21" width="52.85" height="16.32" fill="#b6cefa"/>
<rect x="1368.75" y="1252.21" width="53.85" height="16.32" fill="#d32992"/>
<rect x="987" y="1268.04" width="55.15" height="16.32" fill="#006837"/>
<rect x="1041.45" y="1268.04" width="55.15" height="16.32" fill="#93d168"/>
<rect x="1095.9" y="1268.04" width="55.15" height="16.32" fill="#94b6ff"/>
<rect x="1150.35" y="1268.04" width="55.15" height="16.32" fill="#7597f6"/>
<rect x="1204.8" y="1268.04" width="55.15" height="16.32" fill="#5977e3"/>
<rect x="1259.25" y="1268.04" width="54.45" height="16.32" fill="#4961d2"/>
<rect x="1314.6" y="1268.04" width="52.85" height="16.32" fill="#b6cefa"/>
<rect x="1368.75" y="1268.04" width="53.85" height="16.32" fill="#b90d84"/>
<rect x="987" y="1283.86" width="55.15" height="16.32" fill="#006837"/>
<rect x="1041.45" y="1283.86" width="55.15" height="16.32" fill="#93d168"/>
<rect x="1095.9" y="1283.86" width="55.15" height="16.32" fill="#94b6ff"/>
<rect x="1150.35" y="1283.86" width="55.15" height="16.32" fill="#7597f6"/>
<rect x="1204.8" y="1283.86" width="55.15" height="16.32" fill="#5977e3"/>
<rect x="1259.25" y="1283.86" width="54.45" height="16.32" fill="#4961d2"/>
<rect x="1314.6" y="1283.86" width="52.85" height="16.32" fill="#b6cefa"/>
<rect x="1368.75" y="1283.86" width="53.85" height="16.32" fill="#ad017e"/>
<rect x="987" y="1299.69" width="55.15" height="16.32" fill="#006837"/>
<rect x="1041.45" y="1299.69" width="55.15" height="16.32" fill="#006837"/>
<rect x="1095.9" y="1299.69" width="55.15" height="16.32" fill="#94b6ff"/>
<rect x="1150.35" y="1299.69" width="55.15" height="16.32" fill="#7597f6"/>
<rect x="1204.8" y="1299.69" width="55.15" height="16.32" fill="#5977e3"/>
<rect x="1259.25" y="1299.69" width="54.45" height="16.32" fill="#4961d2"/>
<rect x="1314.6" y="1299.69" width="52.85" height="16.32" fill="#b6cefa"/>
<rect x="1368.75" y="1299.69" width="53.85" height="16.32" fill="#e23e99"/>
<rect x="987" y="1315.51" width="55.15" height="16.32" fill="#84ca66"/>
<rect x="1041.45" y="1315.51" width="55.15" height="16.32" fill="#006837"/>
<rect x="1204.8" y="1315.51" width="55.15" height="16.32" fill="#dddcdc"/>
<rect x="1259.25" y="1315.51" width="54.45" height="16.32" fill="#afcafc"/>
<rect x="1314.6" y="1315.51" width="52.85" height="16.32" fill="#b40426"/>
<rect x="1368.75" y="1315.51" width="53.85" height="16.32" fill="#fff2ee"/>
<rect x="987" y="1331.34" width="55.15" height="16.32" fill="#006837"/>
<rect x="1041.45" y="1331.34" width="55.15" height="16.32" fill="#006837"/>
<rect x="1095.9" y="1331.34" width="55.15" height="16.32" fill="#a9c6fd"/>
<rect x="1150.35" y="1331.34" width="55.15" height="16.32" fill="#82a6fb"/>
<rect x="1204.8" y="1331.34" width="55.15" height="16.32" fill="#6a8bef"/>
<rect x="1259.25" y="1331.34" width="54.45" height="16.32" fill="#4f69d9"/>
<rect x="1314.6" y="1331.34" width="52.85" height="16.32" fill="#dddcdc"/>
<rect x="1368.75" y="1331.34" width="53.85" height="16.32" fill="#f875a6"/>
<rect x="987" y="1347.16" width="55.15" height="16.32" fill="#006837"/>
<rect x="1041.45" y="1347.16" width="55.15" height="16.32" fill="#30a356"/>
<rect x="987" y="1362.98" width="55.15" height="16.32" fill="#006837"/>
<rect x="1041.45" y="1362.98" width="55.15" height="16.32" fill="#006837"/>
<rect x="1095.9" y="1362.98" width="55.15" height="16.32" fill="#94b6ff"/>
<rect x="1150.35" y="1362.98" width="55.15" height="16.32" fill="#7093f3"/>
<rect x="1204.8" y="1362.98" width="55.15" height="16.32" fill="#5977e3"/>
<rect x="1259.25" y="1362.98" width="54.45" height="16.32" fill="#465ecf"/>
<rect x="1314.6" y="1362.98" width="52.85" height="16.32" fill="#afcafc"/>
<rect x="1368.75" y="1362.98" width="53.85" height="16.32" fill="#e23e99"/>
<rect x="987" y="1378.81" width="55.15" height="16.32" fill="#006837"/>
<rect x="1041.45" y="1378.81" width="55.15" height="16.32" fill="#d9ef8b"/>
<rect x="1095.9" y="1378.81" width="55.15" height="16.32" fill="#b6cefa"/>
<rect x="1150.35" y="1378.81" width="55.15" height="16.32" fill="#9ebeff"/>
<rect x="1204.8" y="1378.81" width="55.15" height="16.32" fill="#7b9ff9"/>
<rect x="1259.25" y="1378.81" width="54.45" height="16.32" fill="#6384eb"/>
<rect x="1314.6" y="1378.81" width="52.85" height="16.32" fill="#dddcdc"/>
<rect x="1368.75" y="1378.81" width="53.85" height="16.32" fill="#d32992"/>
<rect x="987" y="1394.63" width="55.15" height="16.32" fill="#006837"/>
<rect x="1041.45" y="1394.63" width="55.15" height="16.32" fill="#30a356"/>
<rect x="1095.9" y="1394.63" width="55.15" height="16.32" fill="#94b6ff"/>
<rect x="1150.35" y="1394.63" width="55.15" height="16.32" fill="#7093f3"/>
<rect x="1204.8" y="1394.63" width="55.15" height="16.32" fill="#5977e3"/>
<rect x="1259.25" y="1394.63" width="54.45" height="16.32" fill="#465ecf"/>
<rect x="1314.6" y="1394.63" width="52.85" height="16.32" fill="#afcafc"/>
<rect x="1368.75" y="1394.63" width="53.85" height="16.32" fill="#de3697"/>
<rect x="987" y="1410.46" width="55.15" height="16.32" fill="#006837"/>
<rect x="1041.45" y="1410.46" width="55.15" height="16.32" fill="#f7fcb4"/>
<rect x="1095.9" y="1410.46" width="55.15" height="16.32" fill="#afcafc"/>
<rect x="1150.35" y="1410.46" width="55.15" height="16.32" fill="#9ebeff"/>
<rect x="1204.8" y="1410.46" width="55.15" height="16.32" fill="#7b9ff9"/>
<rect x="1259.25" y="1410.46" width="54.45" height="16.32" fill="#6a8bef"/>
<rect x="1314.6" y="1410.46" width="52.85" height="16.32" fill="#dddcdc"/>
<rect x="1368.75" y="1410.46" width="53.85" height="16.32" fill="#ed549d"/>
<rect x="987" y="1426.28" width="55.15" height="16.32" fill="#006837"/>
<rect x="1041.45" y="1426.28" width="55.15" height="16.32" fill="#d9ef8b"/>
<rect x="1095.9" y="1426.28" width="55.15" height="16.32" fill="#9ebeff"/>
<rect x="1150.35" y="1426.28" width="55.15" height="16.32" fill="#8db0fe"/>
<rect x="1204.8" y="1426.28" width="55.15" height="16.32" fill="#7093f3"/>
<rect x="1259.25" y="1426.28" width="54.45" height="16.32" fill="#5977e3"/>
<rect x="1314.6" y="1426.28" width="52.85" height="16.32" fill="#d5dbe5"/>
<rect x="1368.75" y="1426.28" width="53.85" height="16.32" fill="#99017b"/>
<rect x="987" y="1442.11" width="55.15" height="16.32" fill="#006837"/>
<rect x="1041.45" y="1442.11" width="55.15" height="16.32" fill="#006837"/>
<rect x="1095.9" y="1442.11" width="55.15" height="16.32" fill="#94b6ff"/>
<rect x="1150.35" y="1442.11" width="55.15" height="16.32" fill="#7b9ff9"/>
<rect x="1204.8" y="1442.11" width="55.15" height="16.32" fill="#5977e3"/>
<rect x="1259.25" y="1442.11" width="54.45" height="16.32" fill="#4961d2"/>
<rect x="1314.6" y="1442.11" width="52.85" height="16.32" fill="#b6cefa"/>
<rect x="1368.75" y="1442.11" width="53.85" height="16.32" fill="#b90d84"/>
<rect x="987" y="1457.93" width="55.15" height="16.32" fill="#006837"/>
<rect x="1041.45" y="1457.93" width="55.15" height="16.32" fill="#d9ef8b"/>
<rect x="1095.9" y="1457.93" width="55.15" height="16.32" fill="#afcafc"/>
<rect x="1150.35" y="1457.93" width="55.15" height="16.32" fill="#97b8ff"/>
<rect x="1204.8" y="1457.93" width="55.15" height="16.32" fill="#7b9ff9"/>
<rect x="1259.25" y="1457.93" width="54.45" height="16.32" fill="#5f7fe8"/>
<rect x="1314.6" y="1457.93" width="52.85" height="16.32" fill="#dddcdc"/>
<rect x="1368.75" y="1457.93" width="53.85" height="16.32" fill="#ed549d"/>
<rect x="987" y="1473.76" width="55.15" height="16.32" fill="#006837"/>
<rect x="1041.45" y="1473.76" width="55.15" height="16.32" fill="#006837"/>
<rect x="1095.9" y="1473.76" width="55.15" height="16.32" fill="#94b6ff"/>
<rect x="1150.35" y="1473.76" width="55.15" height="16.32" fill="#7597f6"/>
<rect x="1204.8" y="1473.76" width="55.15" height="16.32" fill="#5977e3"/>
<rect x="1259.25" y="1473.76" width="54.45" height="16.32" fill="#4358cb"/>
<rect x="1314.6" y="1473.76" width="52.85" height="16.32" fill="#b6cefa"/>
<rect x="1368.75" y="1473.76" width="53.85" height="16.32" fill="#e6479b"/>
<rect x="987" y="1489.58" width="55.15" height="16.32" fill="#d9ef8b"/>
<rect x="1041.45" y="1489.58" width="55.15" height="16.32" fill="#006837"/>
<rect x="1204.8" y="1489.58" width="55.15" height="16.32" fill="#8db0fe"/>
<rect x="1259.25" y="1489.58" width="54.45" height="16.32" fill="#6384eb"/>
<rect x="1314.6" y="1489.58" width="52.85" height="16.32" fill="#f6bda2"/>
<rect x="1368.75" y="1489.58" width="53.85" height="16.32" fill="#fddbd7"/>
<rect x="987" y="1505.4" width="55.15" height="16.32" fill="#006837"/>
<rect x="1041.45" y="1505.4" width="55.15" height="16.32" fill="#006837"/>
<rect x="1095.9" y="1505.4" width="55.15" height="16.32" fill="#94b6ff"/>
<rect x="1150.35" y="1505.4" width="55.15" height="16.32" fill="#7b9ff9"/>
<rect x="1204.8" y="1505.4" width="55.15" height="16.32" fill="#6384eb"/>
<rect x="1259.25" y="1505.4" width="54.45" height="16.32" fill="#4f69d9"/>
<rect x="1314.6" y="1505.4" width="52.85" height="16.32" fill="#b6cefa"/>
<rect x="1368.75" y="1505.4" width="53.85" height="16.32" fill="#c01588"/>
<rect x="987" y="1521.23" width="55.15" height="16.32" fill="#cfeb85"/>
<rect x="1041.45" y="1521.23" width="55.15" height="16.32" fill="#199750"/>
<rect x="1150.35" y="1521.23" width="55.15" height="16.32" fill="#d2dbe8"/>
<rect x="1204.8" y="1521.23" width="55.15" height="16.32" fill="#bad0f8"/>
<rect x="1259.25" y="1521.23" width="54.45" height="16.32" fill="#a5c3fe"/>
<rect x="1314.6" y="1521.23" width="52.85" height="16.32" fill="#f7ba9f"/>
<rect x="1368.75" y="1521.23" width="53.85" height="16.32" fill="#fbb6bc"/>
<rect x="987" y="1537.05" width="55.15" height="16.32" fill="#cfeb85"/>
<rect x="1041.45" y="1537.05" width="55.15" height="16.32" fill="#006837"/>
<rect x="1095.9" y="1537.05" width="55.15" height="16.32" fill="#dddcdc"/>
<rect x="1150.35" y="1537.05" width="55.15" height="16.32" fill="#d5dbe5"/>
<rect x="1204.8" y="1537.05" width="55.15" height="16.32" fill="#bad0f8"/>
<rect x="1259.25" y="1537.05" width="54.45" height="16.32" fill="#a5c3fe"/>
<rect x="1314.6" y="1537.05" width="52.85" height="16.32" fill="#f7ba9f"/>
<rect x="1368.75" y="1537.05" width="53.85" height="16.32" fill="#f98bae"/>
<rect x="987" y="1552.88" width="55.15" height="16.32" fill="#006837"/>
<rect x="1041.45" y="1552.88" width="55.15" height="16.32" fill="#199750"/>
<rect x="1095.9" y="1552.88" width="55.15" height="16.32" fill="#a9c6fd"/>
<rect x="1150.35" y="1552.88" width="55.15" height="16.32" fill="#8db0fe"/>
<rect x="1204.8" y="1552.88" width="55.15" height="16.32" fill="#7093f3"/>
<rect x="1259.25" y="1552.88" width="54.45" height="16.32" fill="#5977e3"/>
<rect x="1314.6" y="1552.88" width="52.85" height="16.32" fill="#cfdaea"/>
<rect x="1368.75" y="1552.88" width="53.85" height="16.32" fill="#d32992"/>
<rect x="987" y="1568.7" width="55.15" height="16.32" fill="#006837"/>
<rect x="1041.45" y="1568.7" width="55.15" height="16.32" fill="#006837"/>
<rect x="1095.9" y="1568.7" width="55.15" height="16.32" fill="#a9c6fd"/>
<rect x="1150.35" y="1568.7" width="55.15" height="16.32" fill="#94b6ff"/>
<rect x="1204.8" y="1568.7" width="55.15" height="16.32" fill="#7597f6"/>
<rect x="1259.25" y="1568.7" width="54.45" height="16.32" fill="#5977e3"/>
<rect x="1314.6" y="1568.7" width="52.85" height="16.32" fill="#cfdaea"/>
<rect x="1368.75" y="1568.7" width="53.85" height="16.32" fill="#b90d84"/>
<rect x="987" y="1584.53" width="55.15" height="16.32" fill="#57b65f"/>
<rect x="1041.45" y="1584.53" width="55.15" height="16.32" fill="#30a356"/>
<rect x="1095.9" y="1584.53" width="55.15" height="16.32" fill="#ccd9ed"/>
<rect x="1150.35" y="1584.53" width="55.15" height="16.32" fill="#b6cefa"/>
<rect x="1204.8" y="1584.53" width="55.15" height="16.32" fill="#9ebeff"/>
<rect x="1259.25" y="1584.53" width="54.45" height="16.32" fill="#85a8fc"/>
<rect x="1314.6" y="1584.53" width="52.85" height="16.32" fill="#e4d9d2"/>
<rect x="1368.75" y="1584.53" width="53.85" height="16.32" fill="#ed549d"/>
<rect x="987" y="1600.35" width="55.15" height="16.32" fill="#66bd63"/>
<rect x="1041.45" y="1600.35" width="55.15" height="16.32" fill="#006837"/>
<rect x="1095.9" y="1600.35" width="55.15" height="16.32" fill="#cad8ef"/>
<rect x="1150.35" y="1600.35" width="55.15" height="16.32" fill="#b6cefa"/>
<rect x="1204.8" y="1600.35" width="55.15" height="16.32" fill="#9ebeff"/>
<rect x="1259.25" y="1600.35" width="54.45" height="16.32" fill="#85a8fc"/>
<rect x="1314.6" y="1600.35" width="52.85" height="16.32" fill="#dddcdc"/>
<rect x="1368.75" y="1600.35" width="53.85" height="16.32" fill="#d32992"/>
<rect x="987" y="1616.18" width="55.15" height="15.82" fill="#006837"/>
<rect x="1041.45" y="1616.18" width="55.15" height="15.82" fill="#279f53"/>
<rect x="1095.9" y="1616.18" width="55.15" height="15.82" fill="#a9c6fd"/>
<rect x="1150.35" y="1616.18" width="55.15" height="15.82" fill="#8db0fe"/>
<rect x="1204.8" y="1616.18" width="55.15" height="15.82" fill="#7597f6"/>
<rect x="1259.25" y="1616.18" width="54.45" height="15.82" fill="#5f7fe8"/>
<rect x="1314.6" y="1616.18" width="52.85" height="15.82" fill="#cfdaea"/>
<rect x="1368.75" y="1616.18" width="53.85" height="15.82" fill="#c01588"/>
</g>
<line x1="1014.23" y1="136.6" x2="1014.23" y2="144.3" stroke="#222" stroke-width="1.6"/>
<text transform="translate(1019.43,131) rotate(-90)" class="hd">tm_delta_forward</text>
<line x1="1068.68" y1="136.6" x2="1068.68" y2="144.3" stroke="#222" stroke-width="1.6"/>
<text transform="translate(1073.88,131) rotate(-90)" class="hd">tm_delta_reverse</text>
<line x1="1123.12" y1="136.6" x2="1123.12" y2="144.3" stroke="#222" stroke-width="1.6"/>
<text transform="translate(1128.33,131) rotate(-90)" class="hd">50 copies</text>
<line x1="1177.57" y1="136.6" x2="1177.57" y2="144.3" stroke="#222" stroke-width="1.6"/>
<text transform="translate(1182.77,131) rotate(-90)" class="hd">500 copies</text>
<line x1="1232.03" y1="136.6" x2="1232.03" y2="144.3" stroke="#222" stroke-width="1.6"/>
<text transform="translate(1237.23,131) rotate(-90)" class="hd">5,000 copies</text>
<line x1="1286.47" y1="136.6" x2="1286.47" y2="144.3" stroke="#222" stroke-width="1.6"/>
<text transform="translate(1291.67,131) rotate(-90)" class="hd">50,000 copies</text>
<line x1="1340.93" y1="136.6" x2="1340.93" y2="144.3" stroke="#222" stroke-width="1.6"/>
<text transform="translate(1346.13,131) rotate(-90)" class="hd">y-int</text>
<line x1="1395.38" y1="136.6" x2="1395.38" y2="144.3" stroke="#222" stroke-width="1.6"/>
<text transform="translate(1400.58,131) rotate(-90)" class="hd">Efficiency</text>
<line x1="1422.8" y1="152.41" x2="1430.6" y2="152.41" stroke="#222" stroke-width="1.6"/>
<text transform="translate(1436,158.11) scale(0.923,1)" class="rl">ChinaN-PC</text>
<line x1="1422.8" y1="168.25" x2="1430.6" y2="168.25" stroke="#222" stroke-width="1.6"/>
<text transform="translate(1436,173.95) scale(0.923,1)" class="rl">FN5780</text>
<line x1="1422.8" y1="184.08" x2="1430.6" y2="184.08" stroke="#222" stroke-width="1.6"/>
<text transform="translate(1436,189.78) scale(0.923,1)" class="rl">FN5990</text>
<line x1="1422.8" y1="199.92" x2="1430.6" y2="199.92" stroke="#222" stroke-width="1.6"/>
<text transform="translate(1436,205.62) scale(0.923,1)" class="rl">FN6003</text>
<line x1="1422.8" y1="215.75" x2="1430.6" y2="215.75" stroke="#222" stroke-width="1.6"/>
<text transform="translate(1436,221.45) scale(0.923,1)" class="rl">FN4820</text>
<line x1="1422.8" y1="231.58" x2="1430.6" y2="231.58" stroke="#222" stroke-width="1.6"/>
<text transform="translate(1436,237.28) scale(0.923,1)" class="rl">FN4837</text>
<line x1="1422.8" y1="247.42" x2="1430.6" y2="247.42" stroke="#222" stroke-width="1.6"/>
<text transform="translate(1436,253.12) scale(0.923,1)" class="rl">FN6004</text>
<line x1="1422.8" y1="263.25" x2="1430.6" y2="263.25" stroke="#222" stroke-width="1.6"/>
<text transform="translate(1436,268.95) scale(0.923,1)" class="rl">FN5540</text>
<line x1="1422.8" y1="279.09" x2="1430.6" y2="279.09" stroke="#222" stroke-width="1.6"/>
<text transform="translate(1436,284.79) scale(0.923,1)" class="rl">FN4223</text>
<line x1="1422.8" y1="294.92" x2="1430.6" y2="294.92" stroke="#222" stroke-width="1.6"/>
<text transform="translate(1436,300.62) scale(0.923,1)" class="rl">FN5770</text>
<line x1="1422.8" y1="310.76" x2="1430.6" y2="310.76" stroke="#222" stroke-width="1.6"/>
<text transform="translate(1436,316.46) scale(0.923,1)" class="rl">FN5993</text>
<line x1="1422.8" y1="326.59" x2="1430.6" y2="326.59" stroke="#222" stroke-width="1.6"/>
<text transform="translate(1436,332.29) scale(0.923,1)" class="rl">FN5776</text>
<line x1="1422.8" y1="342.43" x2="1430.6" y2="342.43" stroke="#222" stroke-width="1.6"/>
<text transform="translate(1436,348.13) scale(0.923,1)" class="rl">FN5495</text>
<line x1="1422.8" y1="358.26" x2="1430.6" y2="358.26" stroke="#222" stroke-width="1.6"/>
<text transform="translate(1436,363.96) scale(0.923,1)" class="rl">FN5480</text>
<line x1="1422.8" y1="374.09" x2="1430.6" y2="374.09" stroke="#222" stroke-width="1.6"/>
<text transform="translate(1436,379.79) scale(0.923,1)" class="rl">FN5771</text>
<line x1="1422.8" y1="389.93" x2="1430.6" y2="389.93" stroke="#222" stroke-width="1.6"/>
<text transform="translate(1436,395.63) scale(0.923,1)" class="rl">FN5544</text>
<line x1="1422.8" y1="405.76" x2="1430.6" y2="405.76" stroke="#222" stroke-width="1.6"/>
<text transform="translate(1436,411.46) scale(0.923,1)" class="rl">FN5240</text>
<line x1="1422.8" y1="421.6" x2="1430.6" y2="421.6" stroke="#222" stroke-width="1.6"/>
<text transform="translate(1436,427.3) scale(0.923,1)" class="rl">FN5289</text>
<line x1="1422.8" y1="437.43" x2="1430.6" y2="437.43" stroke="#222" stroke-width="1.6"/>
<text transform="translate(1436,443.13) scale(0.923,1)" class="rl">FN5241</text>
<line x1="1422.8" y1="453.27" x2="1430.6" y2="453.27" stroke="#222" stroke-width="1.6"/>
<text transform="translate(1436,458.97) scale(0.923,1)" class="rl">FN5264</text>
<line x1="1422.8" y1="469.1" x2="1430.6" y2="469.1" stroke="#222" stroke-width="1.6"/>
<text transform="translate(1436,474.8) scale(0.923,1)" class="rl">FN5329</text>
<line x1="1422.8" y1="484.94" x2="1430.6" y2="484.94" stroke="#222" stroke-width="1.6"/>
<text transform="translate(1436,490.64) scale(0.923,1)" class="rl">FN5533</text>
<line x1="1422.8" y1="500.77" x2="1430.6" y2="500.77" stroke="#222" stroke-width="1.6"/>
<text transform="translate(1436,506.47) scale(0.923,1)" class="rl">FN5337</text>
<line x1="1422.8" y1="516.61" x2="1430.6" y2="516.61" stroke="#222" stroke-width="1.6"/>
<text transform="translate(1436,522.31) scale(0.923,1)" class="rl">FN5293</text>
<line x1="1422.8" y1="532.44" x2="1430.6" y2="532.44" stroke="#222" stroke-width="1.6"/>
<text transform="translate(1436,538.14) scale(0.923,1)" class="rl">FN5310</text>
<line x1="1422.8" y1="548.27" x2="1430.6" y2="548.27" stroke="#222" stroke-width="1.6"/>
<text transform="translate(1436,553.97) scale(0.923,1)" class="rl">FN5212</text>
<line x1="1422.8" y1="564.11" x2="1430.6" y2="564.11" stroke="#222" stroke-width="1.6"/>
<text transform="translate(1436,569.81) scale(0.923,1)" class="rl">FN5772</text>
<line x1="1422.8" y1="579.94" x2="1430.6" y2="579.94" stroke="#222" stroke-width="1.6"/>
<text transform="translate(1436,585.64) scale(0.923,1)" class="rl">FN5309</text>
<line x1="1422.8" y1="595.78" x2="1430.6" y2="595.78" stroke="#222" stroke-width="1.6"/>
<text transform="translate(1436,601.48) scale(0.923,1)" class="rl">FN5256</text>
<line x1="1422.8" y1="611.61" x2="1430.6" y2="611.61" stroke="#222" stroke-width="1.6"/>
<text transform="translate(1436,617.31) scale(0.923,1)" class="rl">FN5490</text>
<line x1="1422.8" y1="627.45" x2="1430.6" y2="627.45" stroke="#222" stroke-width="1.6"/>
<text transform="translate(1436,633.15) scale(0.923,1)" class="rl">FN5213</text>
<line x1="1422.8" y1="643.28" x2="1430.6" y2="643.28" stroke="#222" stroke-width="1.6"/>
<text transform="translate(1436,648.98) scale(0.923,1)" class="rl">FN5279</text>
<line x1="1422.8" y1="659.12" x2="1430.6" y2="659.12" stroke="#222" stroke-width="1.6"/>
<text transform="translate(1436,664.82) scale(0.923,1)" class="rl">FN5278</text>
<line x1="1422.8" y1="674.95" x2="1430.6" y2="674.95" stroke="#222" stroke-width="1.6"/>
<text transform="translate(1436,680.65) scale(0.923,1)" class="rl">FN5505</text>
<line x1="1422.8" y1="690.78" x2="1430.6" y2="690.78" stroke="#222" stroke-width="1.6"/>
<text transform="translate(1436,696.48) scale(0.923,1)" class="rl">FN5529</text>
<line x1="1422.8" y1="706.62" x2="1430.6" y2="706.62" stroke="#222" stroke-width="1.6"/>
<text transform="translate(1436,712.32) scale(0.923,1)" class="rl">FN5290</text>
<line x1="1422.8" y1="722.45" x2="1430.6" y2="722.45" stroke="#222" stroke-width="1.6"/>
<text transform="translate(1436,728.15) scale(0.923,1)" class="rl">FN5872</text>
<line x1="1422.8" y1="738.29" x2="1430.6" y2="738.29" stroke="#222" stroke-width="1.6"/>
<text transform="translate(1436,743.99) scale(0.923,1)" class="rl">FN5331</text>
<line x1="1422.8" y1="754.12" x2="1430.6" y2="754.12" stroke="#222" stroke-width="1.6"/>
<text transform="translate(1436,759.82) scale(0.923,1)" class="rl">FN5308</text>
<line x1="1422.8" y1="769.96" x2="1430.6" y2="769.96" stroke="#222" stroke-width="1.6"/>
<text transform="translate(1436,775.66) scale(0.923,1)" class="rl">FN5346</text>
<line x1="1422.8" y1="785.79" x2="1430.6" y2="785.79" stroke="#222" stroke-width="1.6"/>
<text transform="translate(1436,791.49) scale(0.923,1)" class="rl">FN5231</text>
<line x1="1422.8" y1="801.63" x2="1430.6" y2="801.63" stroke="#222" stroke-width="1.6"/>
<text transform="translate(1436,807.33) scale(0.923,1)" class="rl">FN5246</text>
<line x1="1422.8" y1="817.46" x2="1430.6" y2="817.46" stroke="#222" stroke-width="1.6"/>
<text transform="translate(1436,823.16) scale(0.923,1)" class="rl">FN5512</text>
<line x1="1422.8" y1="833.29" x2="1430.6" y2="833.29" stroke="#222" stroke-width="1.6"/>
<text transform="translate(1436,838.99) scale(0.923,1)" class="rl">FN5301</text>
<line x1="1422.8" y1="849.13" x2="1430.6" y2="849.13" stroke="#222" stroke-width="1.6"/>
<text transform="translate(1436,854.83) scale(0.923,1)" class="rl">FN5330</text>
<line x1="1422.8" y1="864.96" x2="1430.6" y2="864.96" stroke="#222" stroke-width="1.6"/>
<text transform="translate(1436,870.66) scale(0.923,1)" class="rl">FN5245</text>
<line x1="1422.8" y1="880.8" x2="1430.6" y2="880.8" stroke="#222" stroke-width="1.6"/>
<text transform="translate(1436,886.5) scale(0.923,1)" class="rl">FN5247</text>
<line x1="1422.8" y1="896.63" x2="1430.6" y2="896.63" stroke="#222" stroke-width="1.6"/>
<text transform="translate(1436,902.33) scale(0.923,1)" class="rl">FN5201</text>
<line x1="1422.8" y1="912.47" x2="1430.6" y2="912.47" stroke="#222" stroke-width="1.6"/>
<text transform="translate(1436,918.17) scale(0.923,1)" class="rl">FN5536</text>
<line x1="1422.8" y1="928.3" x2="1430.6" y2="928.3" stroke="#222" stroke-width="1.6"/>
<text transform="translate(1436,934) scale(0.923,1)" class="rl">FN5280</text>
<line x1="1422.8" y1="944.14" x2="1430.6" y2="944.14" stroke="#222" stroke-width="1.6"/>
<text transform="translate(1436,949.84) scale(0.923,1)" class="rl">FN5336</text>
<line x1="1422.8" y1="959.97" x2="1430.6" y2="959.97" stroke="#222" stroke-width="1.6"/>
<text transform="translate(1436,965.67) scale(0.923,1)" class="rl">FN5220</text>
<line x1="1422.8" y1="975.8" x2="1430.6" y2="975.8" stroke="#222" stroke-width="1.6"/>
<text transform="translate(1436,981.5) scale(0.923,1)" class="rl">FN4831</text>
<line x1="1422.8" y1="991.64" x2="1430.6" y2="991.64" stroke="#222" stroke-width="1.6"/>
<text transform="translate(1436,997.34) scale(0.923,1)" class="rl">FN4754</text>
<line x1="1422.8" y1="1007.47" x2="1430.6" y2="1007.47" stroke="#222" stroke-width="1.6"/>
<text transform="translate(1436,1013.17) scale(0.923,1)" class="rl">FN5547</text>
<line x1="1422.8" y1="1023.31" x2="1430.6" y2="1023.31" stroke="#222" stroke-width="1.6"/>
<text transform="translate(1436,1029.01) scale(0.923,1)" class="rl">FN5781</text>
<line x1="1422.8" y1="1039.14" x2="1430.6" y2="1039.14" stroke="#222" stroke-width="1.6"/>
<text transform="translate(1436,1044.84) scale(0.923,1)" class="rl">Young_S-PC</text>
<line x1="1422.8" y1="1054.98" x2="1430.6" y2="1054.98" stroke="#222" stroke-width="1.6"/>
<text transform="translate(1436,1060.68) scale(0.923,1)" class="rl">FN5689</text>
<line x1="1422.8" y1="1070.81" x2="1430.6" y2="1070.81" stroke="#222" stroke-width="1.6"/>
<text transform="translate(1436,1076.51) scale(0.923,1)" class="rl">FN4738</text>
<line x1="1422.8" y1="1086.65" x2="1430.6" y2="1086.65" stroke="#222" stroke-width="1.6"/>
<text transform="translate(1436,1092.35) scale(0.923,1)" class="rl">FN5192</text>
<line x1="1422.8" y1="1102.48" x2="1430.6" y2="1102.48" stroke="#222" stroke-width="1.6"/>
<text transform="translate(1436,1108.18) scale(0.923,1)" class="rl">FN5420</text>
<line x1="1422.8" y1="1118.31" x2="1430.6" y2="1118.31" stroke="#222" stroke-width="1.6"/>
<text transform="translate(1436,1124.01) scale(0.923,1)" class="rl">FN5685</text>
<line x1="1422.8" y1="1134.15" x2="1430.6" y2="1134.15" stroke="#222" stroke-width="1.6"/>
<text transform="translate(1436,1139.85) scale(0.923,1)" class="rl">FN4737</text>
<line x1="1422.8" y1="1149.98" x2="1430.6" y2="1149.98" stroke="#222" stroke-width="1.6"/>
<text transform="translate(1436,1155.68) scale(0.923,1)" class="rl">FN5974</text>
<line x1="1422.8" y1="1165.82" x2="1430.6" y2="1165.82" stroke="#222" stroke-width="1.6"/>
<text transform="translate(1436,1171.52) scale(0.923,1)" class="rl">FN5710</text>
<line x1="1422.8" y1="1181.65" x2="1430.6" y2="1181.65" stroke="#222" stroke-width="1.6"/>
<text transform="translate(1436,1187.35) scale(0.923,1)" class="rl">FN4736</text>
<line x1="1422.8" y1="1197.49" x2="1430.6" y2="1197.49" stroke="#222" stroke-width="1.6"/>
<text transform="translate(1436,1203.19) scale(0.923,1)" class="rl">C4_ORF8-PC</text>
<line x1="1422.8" y1="1213.32" x2="1430.6" y2="1213.32" stroke="#222" stroke-width="1.6"/>
<text transform="translate(1436,1219.02) scale(0.923,1)" class="rl">FN631</text>
<line x1="1422.8" y1="1229.16" x2="1430.6" y2="1229.16" stroke="#222" stroke-width="1.6"/>
<text transform="translate(1436,1234.86) scale(0.923,1)" class="rl">FN4950</text>
<line x1="1422.8" y1="1244.99" x2="1430.6" y2="1244.99" stroke="#222" stroke-width="1.6"/>
<text transform="translate(1436,1250.69) scale(0.923,1)" class="rl">FN4966</text>
<line x1="1422.8" y1="1260.83" x2="1430.6" y2="1260.83" stroke="#222" stroke-width="1.6"/>
<text transform="translate(1436,1266.53) scale(0.923,1)" class="rl">FN3554</text>
<line x1="1422.8" y1="1276.66" x2="1430.6" y2="1276.66" stroke="#222" stroke-width="1.6"/>
<text transform="translate(1436,1282.36) scale(0.923,1)" class="rl">FN4993</text>
<line x1="1422.8" y1="1292.49" x2="1430.6" y2="1292.49" stroke="#222" stroke-width="1.6"/>
<text transform="translate(1436,1298.19) scale(0.923,1)" class="rl">FN4545</text>
<line x1="1422.8" y1="1308.33" x2="1430.6" y2="1308.33" stroke="#222" stroke-width="1.6"/>
<text transform="translate(1436,1314.03) scale(0.923,1)" class="rl">C4_ORF3a-PC</text>
<line x1="1422.8" y1="1324.16" x2="1430.6" y2="1324.16" stroke="#222" stroke-width="1.6"/>
<text transform="translate(1436,1329.86) scale(0.923,1)" class="rl">FN4331</text>
<line x1="1422.8" y1="1340" x2="1430.6" y2="1340" stroke="#222" stroke-width="1.6"/>
<text transform="translate(1436,1345.7) scale(0.923,1)" class="rl">France_IP2-PC</text>
<line x1="1422.8" y1="1355.83" x2="1430.6" y2="1355.83" stroke="#222" stroke-width="1.6"/>
<text transform="translate(1436,1361.53) scale(0.923,1)" class="rl">FN5140</text>
<line x1="1422.8" y1="1371.67" x2="1430.6" y2="1371.67" stroke="#222" stroke-width="1.6"/>
<text transform="translate(1436,1377.37) scale(0.923,1)" class="rl">HKU_Orf1b-PC</text>
<line x1="1422.8" y1="1387.5" x2="1430.6" y2="1387.5" stroke="#222" stroke-width="1.6"/>
<text transform="translate(1436,1393.2) scale(0.923,1)" class="rl">FN4753</text>
<line x1="1422.8" y1="1403.34" x2="1430.6" y2="1403.34" stroke="#222" stroke-width="1.6"/>
<text transform="translate(1436,1409.04) scale(0.923,1)" class="rl">Japan_N-PC</text>
<line x1="1422.8" y1="1419.17" x2="1430.6" y2="1419.17" stroke="#222" stroke-width="1.6"/>
<text transform="translate(1436,1424.87) scale(0.923,1)" class="rl">FN5357</text>
<line x1="1422.8" y1="1435" x2="1430.6" y2="1435" stroke="#222" stroke-width="1.6"/>
<text transform="translate(1436,1440.7) scale(0.923,1)" class="rl">FN5358</text>
<line x1="1422.8" y1="1450.84" x2="1430.6" y2="1450.84" stroke="#222" stroke-width="1.6"/>
<text transform="translate(1436,1456.54) scale(0.923,1)" class="rl">Young_ORF1ab-PC</text>
<line x1="1422.8" y1="1466.67" x2="1430.6" y2="1466.67" stroke="#222" stroke-width="1.6"/>
<text transform="translate(1436,1472.37) scale(0.923,1)" class="rl">FN4739</text>
<line x1="1422.8" y1="1482.51" x2="1430.6" y2="1482.51" stroke="#222" stroke-width="1.6"/>
<text transform="translate(1436,1488.21) scale(0.923,1)" class="rl">Noblis.40-PC</text>
<line x1="1422.8" y1="1498.34" x2="1430.6" y2="1498.34" stroke="#222" stroke-width="1.6"/>
<text transform="translate(1436,1504.04) scale(0.923,1)" class="rl">FN4752</text>
<line x1="1422.8" y1="1514.18" x2="1430.6" y2="1514.18" stroke="#222" stroke-width="1.6"/>
<text transform="translate(1436,1519.88) scale(0.923,1)" class="rl">501Y-PC</text>
<line x1="1422.8" y1="1530.01" x2="1430.6" y2="1530.01" stroke="#222" stroke-width="1.6"/>
<text transform="translate(1436,1535.71) scale(0.923,1)" class="rl">501Y_omi</text>
<line x1="1422.8" y1="1545.85" x2="1430.6" y2="1545.85" stroke="#222" stroke-width="1.6"/>
<text transform="translate(1436,1551.55) scale(0.923,1)" class="rl">omi_ForMms</text>
<line x1="1422.8" y1="1561.68" x2="1430.6" y2="1561.68" stroke="#222" stroke-width="1.6"/>
<text transform="translate(1436,1567.38) scale(0.923,1)" class="rl">omi_RevMms</text>
<line x1="1422.8" y1="1577.51" x2="1430.6" y2="1577.51" stroke="#222" stroke-width="1.6"/>
<text transform="translate(1436,1583.21) scale(0.923,1)" class="rl">501Y_omi-PC</text>
<line x1="1422.8" y1="1593.35" x2="1430.6" y2="1593.35" stroke="#222" stroke-width="1.6"/>
<text transform="translate(1436,1599.05) scale(0.923,1)" class="rl">501Y-PC</text>
<line x1="1422.8" y1="1609.18" x2="1430.6" y2="1609.18" stroke="#222" stroke-width="1.6"/>
<text transform="translate(1436,1614.88) scale(0.923,1)" class="rl">omi_RevMms</text>
<line x1="1422.8" y1="1625.02" x2="1430.6" y2="1625.02" stroke="#222" stroke-width="1.6"/>
<text transform="translate(1436,1630.72) scale(0.923,1)" class="rl">omi_ForMms</text>
<line x1="531" y1="151.9" x2="978" y2="151.9" stroke="#5e5e5e" stroke-width="2.2"/>
<polygon points="529,151.9 529.5,148.1 627.5,148.1 629.7,151.9 627.5,155.7 529.5,155.7" fill="#4aa322" stroke="#357d16" stroke-width="0.9"/>
<polygon points="647.9,151.9 649.9,148.1 738.1,148.1 740.3,151.9 738.1,155.7 649.9,155.7" fill="#4aa322" stroke="#357d16" stroke-width="0.9"/>
<polygon points="880,151.9 882,148.1 979.5,148.1 980,151.9 979.5,155.7 882,155.7" fill="#4aa322" stroke="#357d16" stroke-width="0.9"/>
<line x1="531" y1="167.75" x2="978" y2="167.75" stroke="#5e5e5e" stroke-width="2.2"/>
<polygon points="529,167.75 529.5,163.95 627.5,163.95 629.7,167.75 627.5,171.55 529.5,171.55" fill="#4aa322" stroke="#357d16" stroke-width="0.9"/>
<polygon points="647.9,167.75 649.9,163.95 738.1,163.95 740.3,167.75 738.1,171.55 649.9,171.55" fill="#4aa322" stroke="#357d16" stroke-width="0.9"/>
<polygon points="880,167.75 882,163.95 979.5,163.95 980,167.75 979.5,171.55 882,171.55" fill="#4aa322" stroke="#357d16" stroke-width="0.9"/>
<rect x="897" y="164.25" width="15" height="7" fill="#6f6f6f"/>
<rect x="966" y="164.25" width="5" height="7" fill="#a00000"/>
<rect x="971" y="164.25" width="9" height="7" fill="#0000d2"/>
<line x1="531" y1="183.59" x2="978" y2="183.59" stroke="#5e5e5e" stroke-width="2.2"/>
<polygon points="529,183.59 529.5,179.79 627.5,179.79 629.7,183.59 627.5,187.39 529.5,187.39" fill="#4aa322" stroke="#357d16" stroke-width="0.9"/>
<polygon points="647.9,183.59 649.9,179.79 738.1,179.79 740.3,183.59 738.1,187.39 649.9,187.39" fill="#4aa322" stroke="#357d16" stroke-width="0.9"/>
<polygon points="880,183.59 882,179.79 979.5,179.79 980,183.59 979.5,187.39 882,187.39" fill="#4aa322" stroke="#357d16" stroke-width="0.9"/>
<rect x="538.4" y="180.09" width="4.6" height="7" fill="#0a0a7a"/>
<rect x="897" y="180.09" width="15" height="7" fill="#6f6f6f"/>
<rect x="962" y="180.09" width="9" height="7" fill="#e00000"/>
<rect x="971" y="180.09" width="9" height="7" fill="#0000d2"/>
<line x1="531" y1="199.44" x2="978" y2="199.44" stroke="#5e5e5e" stroke-width="2.2"/>
<polygon points="529,199.44 529.5,195.64 627.5,195.64 629.7,199.44 627.5,203.24 529.5,203.24" fill="#4aa322" stroke="#357d16" stroke-width="0.9"/>
<polygon points="647.9,199.44 649.9,195.64 738.1,195.64 740.3,199.44 738.1,203.24 649.9,203.24" fill="#4aa322" stroke="#357d16" stroke-width="0.9"/>
<polygon points="880,199.44 882,195.64 979.5,195.64 980,199.44 979.5,203.24 882,203.24" fill="#4aa322" stroke="#357d16" stroke-width="0.9"/>
<rect x="538.4" y="195.94" width="4.6" height="7" fill="#0a0a7a"/>
<rect x="902.7" y="195.94" width="27.3" height="7" fill="#6f6f6f"/>
<rect x="966" y="195.94" width="5" height="7" fill="#a00000"/>
<rect x="971" y="195.94" width="9" height="7" fill="#0000d2"/>
<line x1="531" y1="215.28" x2="978" y2="215.28" stroke="#5e5e5e" stroke-width="2.2"/>
<polygon points="529,215.28 529.5,211.48 627.5,211.48 629.7,215.28 627.5,219.08 529.5,219.08" fill="#4aa322" stroke="#357d16" stroke-width="0.9"/>
<polygon points="647.9,215.28 649.9,211.48 738.1,211.48 740.3,215.28 738.1,219.08 649.9,219.08" fill="#4aa322" stroke="#357d16" stroke-width="0.9"/>
<polygon points="880,215.28 882,211.48 979.5,211.48 980,215.28 979.5,219.08 882,219.08" fill="#4aa322" stroke="#357d16" stroke-width="0.9"/>
<rect x="911.8" y="211.78" width="5.5" height="7" fill="#0a0a7a"/>
<rect x="917.3" y="211.78" width="9.2" height="7" fill="#e00000"/>
<line x1="531" y1="231.13" x2="978" y2="231.13" stroke="#5e5e5e" stroke-width="2.2"/>
<polygon points="529,231.13 529.5,227.33 627.5,227.33 629.7,231.13 627.5,234.93 529.5,234.93" fill="#4aa322" stroke="#357d16" stroke-width="0.9"/>
<polygon points="647.9,231.13 649.9,227.33 738.1,227.33 740.3,231.13 738.1,234.93 649.9,234.93" fill="#4aa322" stroke="#357d16" stroke-width="0.9"/>
<polygon points="880,231.13 882,227.33 979.5,227.33 980,231.13 979.5,234.93 882,234.93" fill="#4aa322" stroke="#357d16" stroke-width="0.9"/>
<ellipse cx="745.7" cy="231.13" rx="2.6" ry="4.3" fill="#0a0a9a"/>
<rect x="884.4" y="227.63" width="14.1" height="7" fill="#6f6f6f"/>
<line x1="531" y1="246.98" x2="978" y2="246.98" stroke="#5e5e5e" stroke-width="2.2"/>
<polygon points="529,246.98 529.5,243.18 627.5,243.18 629.7,246.98 627.5,250.78 529.5,250.78" fill="#4aa322" stroke="#357d16" stroke-width="0.9"/>
<polygon points="647.9,246.98 649.9,243.18 738.1,243.18 740.3,246.98 738.1,250.78 649.9,250.78" fill="#4aa322" stroke="#357d16" stroke-width="0.9"/>
<polygon points="880,246.98 882,243.18 979.5,243.18 980,246.98 979.5,250.78 882,250.78" fill="#4aa322" stroke="#357d16" stroke-width="0.9"/>
<rect x="538.4" y="243.48" width="4.6" height="7" fill="#0a0a7a"/>
<rect x="934.7" y="243.48" width="8.8" height="7" fill="#e00000"/>
<rect x="943.5" y="243.48" width="5.5" height="7" fill="#0a0a7a"/>
<rect x="949" y="243.48" width="4.5" height="7" fill="#a00000"/>
<rect x="957.5" y="243.48" width="4.5" height="7" fill="#a00000"/>
<rect x="971.5" y="243.48" width="4.5" height="7" fill="#0a0a7a"/>
<rect x="976" y="243.48" width="4" height="7" fill="#a00000"/>
<line x1="531" y1="262.82" x2="978" y2="262.82" stroke="#5e5e5e" stroke-width="2.2"/>
<polygon points="529,262.82 529.5,259.02 627.5,259.02 629.7,262.82 627.5,266.62 529.5,266.62" fill="#4aa322" stroke="#357d16" stroke-width="0.9"/>
<polygon points="647.9,262.82 649.9,259.02 738.1,259.02 740.3,262.82 738.1,266.62 649.9,266.62" fill="#4aa322" stroke="#357d16" stroke-width="0.9"/>
<polygon points="880,262.82 882,259.02 979.5,259.02 980,262.82 979.5,266.62 882,266.62" fill="#4aa322" stroke="#357d16" stroke-width="0.9"/>
<rect x="538.4" y="259.32" width="4.6" height="7" fill="#0a0a7a"/>
<rect x="907" y="259.32" width="5" height="7" fill="#a00000"/>
<rect x="966" y="259.32" width="5" height="7" fill="#a00000"/>
<rect x="971" y="259.32" width="9" height="7" fill="#0000d2"/>
<line x1="531" y1="278.67" x2="978" y2="278.67" stroke="#5e5e5e" stroke-width="2.2"/>
<polygon points="529,278.67 529.5,274.87 627.5,274.87 629.7,278.67 627.5,282.47 529.5,282.47" fill="#4aa322" stroke="#357d16" stroke-width="0.9"/>
<polygon points="647.9,278.67 649.9,274.87 738.1,274.87 740.3,278.67 738.1,282.47 649.9,282.47" fill="#4aa322" stroke="#357d16" stroke-width="0.9"/>
<polygon points="876.5,278.67 878.5,274.87 979.5,274.87 980,278.67 979.5,282.47 878.5,282.47" fill="#4aa322" stroke="#357d16" stroke-width="0.9"/>
<rect x="876.5" y="275.17" width="13.5" height="7" fill="#6f6f6f"/>
<line x1="531" y1="294.51" x2="978" y2="294.51" stroke="#5e5e5e" stroke-width="2.2"/>
<polygon points="529,294.51 529.5,290.71 627.5,290.71 629.7,294.51 627.5,298.31 529.5,298.31" fill="#4aa322" stroke="#357d16" stroke-width="0.9"/>
<polygon points="647.9,294.51 649.9,290.71 738.1,290.71 740.3,294.51 738.1,298.31 649.9,298.31" fill="#4aa322" stroke="#357d16" stroke-width="0.9"/>
<polygon points="853.4,294.51 855.4,290.71 979.5,290.71 980,294.51 979.5,298.31 855.4,298.31" fill="#4aa322" stroke="#357d16" stroke-width="0.9"/>
<rect x="853.4" y="291.01" width="40.2" height="7" fill="#6f6f6f"/>
<rect x="966" y="291.01" width="5" height="7" fill="#a00000"/>
<rect x="971" y="291.01" width="9" height="7" fill="#0000d2"/>
<line x1="531" y1="310.36" x2="978" y2="310.36" stroke="#5e5e5e" stroke-width="2.2"/>
<polygon points="529,310.36 529.5,306.56 627.5,306.56 629.7,310.36 627.5,314.16 529.5,314.16" fill="#4aa322" stroke="#357d16" stroke-width="0.9"/>
<polygon points="647.9,310.36 649.9,306.56 738.1,306.56 740.3,310.36 738.1,314.16 649.9,314.16" fill="#4aa322" stroke="#357d16" stroke-width="0.9"/>
<polygon points="862.5,310.36 864.5,306.56 979.5,306.56 980,310.36 979.5,314.16 864.5,314.16" fill="#4aa322" stroke="#357d16" stroke-width="0.9"/>
<rect x="538.4" y="306.86" width="4.6" height="7" fill="#0a0a7a"/>
<rect x="862.5" y="306.86" width="40.2" height="7" fill="#6f6f6f"/>
<rect x="966" y="306.86" width="5" height="7" fill="#a00000"/>
<rect x="971" y="306.86" width="9" height="7" fill="#0000d2"/>
<line x1="531" y1="326.21" x2="978" y2="326.21" stroke="#5e5e5e" stroke-width="2.2"/>
<polygon points="529,326.21 529.5,322.41 627.5,322.41 629.7,326.21 627.5,330.01 529.5,330.01" fill="#4aa322" stroke="#357d16" stroke-width="0.9"/>
<polygon points="647.9,326.21 649.9,322.41 738.1,322.41 740.3,326.21 738.1,330.01 649.9,330.01" fill="#4aa322" stroke="#357d16" stroke-width="0.9"/>
<polygon points="880,326.21 882,322.41 979.5,322.41 980,326.21 979.5,330.01 882,330.01" fill="#4aa322" stroke="#357d16" stroke-width="0.9"/>
<rect x="538.4" y="322.71" width="4.6" height="7" fill="#0a0a7a"/>
<rect x="889.3" y="322.71" width="5.5" height="7" fill="#0a0a7a"/>
<rect x="962" y="322.71" width="9" height="7" fill="#e00000"/>
<rect x="971" y="322.71" width="9" height="7" fill="#0000d2"/>
<line x1="531" y1="342.05" x2="978" y2="342.05" stroke="#5e5e5e" stroke-width="2.2"/>
<polygon points="529,342.05 529.5,338.25 627.5,338.25 629.7,342.05 627.5,345.85 529.5,345.85" fill="#4aa322" stroke="#357d16" stroke-width="0.9"/>
<polygon points="647.9,342.05 649.9,338.25 738.1,338.25 740.3,342.05 738.1,345.85 649.9,345.85" fill="#4aa322" stroke="#357d16" stroke-width="0.9"/>
<polygon points="880,342.05 882,338.25 979.5,338.25 980,342.05 979.5,345.85 882,345.85" fill="#4aa322" stroke="#357d16" stroke-width="0.9"/>
<rect x="934.5" y="338.55" width="9.5" height="7" fill="#0000d2"/>
<rect x="966" y="338.55" width="5" height="7" fill="#a00000"/>
<rect x="971" y="338.55" width="9" height="7" fill="#0000d2"/>
<line x1="531" y1="357.9" x2="978" y2="357.9" stroke="#5e5e5e" stroke-width="2.2"/>
<polygon points="529,357.9 529.5,354.1 627.5,354.1 629.7,357.9 627.5,361.7 529.5,361.7" fill="#4aa322" stroke="#357d16" stroke-width="0.9"/>
<polygon points="647.9,357.9 649.9,354.1 738.1,354.1 740.3,357.9 738.1,361.7 649.9,361.7" fill="#4aa322" stroke="#357d16" stroke-width="0.9"/>
<polygon points="880,357.9 882,354.1 979.5,354.1 980,357.9 979.5,361.7 882,361.7" fill="#4aa322" stroke="#357d16" stroke-width="0.9"/>
<rect x="903.3" y="354.4" width="4.2" height="7" fill="#0a0a7a"/>
<rect x="962" y="354.4" width="9" height="7" fill="#e00000"/>
<rect x="971" y="354.4" width="9" height="7" fill="#0000d2"/>
<line x1="531" y1="373.74" x2="978" y2="373.74" stroke="#5e5e5e" stroke-width="2.2"/>
<polygon points="529,373.74 529.5,369.94 627.5,369.94 629.7,373.74 627.5,377.54 529.5,377.54" fill="#4aa322" stroke="#357d16" stroke-width="0.9"/>
<polygon points="647.9,373.74 649.9,369.94 738.1,369.94 740.3,373.74 738.1,377.54 649.9,377.54" fill="#4aa322" stroke="#357d16" stroke-width="0.9"/>
<polygon points="880,373.74 882,369.94 979.5,369.94 980,373.74 979.5,377.54 882,377.54" fill="#4aa322" stroke="#357d16" stroke-width="0.9"/>
<rect x="538.4" y="370.24" width="4.6" height="7" fill="#0a0a7a"/>
<rect x="908" y="370.24" width="4" height="7" fill="#0a0a7a"/>
<rect x="962" y="370.24" width="9" height="7" fill="#e00000"/>
<rect x="971" y="370.24" width="9" height="7" fill="#0000d2"/>
<line x1="531" y1="389.59" x2="978" y2="389.59" stroke="#5e5e5e" stroke-width="2.2"/>
<polygon points="529,389.59 529.5,385.79 627.5,385.79 629.7,389.59 627.5,393.39 529.5,393.39" fill="#4aa322" stroke="#357d16" stroke-width="0.9"/>
<polygon points="647.9,389.59 649.9,385.79 738.1,385.79 740.3,389.59 738.1,393.39 649.9,393.39" fill="#4aa322" stroke="#357d16" stroke-width="0.9"/>
<polygon points="880,389.59 882,385.79 979.5,385.79 980,389.59 979.5,393.39 882,393.39" fill="#4aa322" stroke="#357d16" stroke-width="0.9"/>
<rect x="538.4" y="386.09" width="4.6" height="7" fill="#0a0a7a"/>
<rect x="908" y="386.09" width="4" height="7" fill="#a00000"/>
<rect x="966" y="386.09" width="5" height="7" fill="#a00000"/>
<rect x="971" y="386.09" width="9" height="7" fill="#0000d2"/>
<line x1="531" y1="405.44" x2="978" y2="405.44" stroke="#5e5e5e" stroke-width="2.2"/>
<polygon points="529,405.44 529.5,401.64 627.5,401.64 629.7,405.44 627.5,409.24 529.5,409.24" fill="#4aa322" stroke="#357d16" stroke-width="0.9"/>
<polygon points="647.9,405.44 649.9,401.64 738.1,401.64 740.3,405.44 738.1,409.24 649.9,409.24" fill="#4aa322" stroke="#357d16" stroke-width="0.9"/>
<polygon points="880,405.44 882,401.64 979.5,401.64 980,405.44 979.5,409.24 882,409.24" fill="#4aa322" stroke="#357d16" stroke-width="0.9"/>
<rect x="935.3" y="401.94" width="4.2" height="7" fill="#0a0a7a"/>
<rect x="966" y="401.94" width="5" height="7" fill="#a00000"/>
<rect x="971" y="401.94" width="9" height="7" fill="#0000d2"/>
<line x1="531" y1="421.28" x2="978" y2="421.28" stroke="#5e5e5e" stroke-width="2.2"/>
<polygon points="529,421.28 529.5,417.48 627.5,417.48 629.7,421.28 627.5,425.08 529.5,425.08" fill="#4aa322" stroke="#357d16" stroke-width="0.9"/>
<polygon points="647.9,421.28 649.9,417.48 738.1,417.48 740.3,421.28 738.1,425.08 649.9,425.08" fill="#4aa322" stroke="#357d16" stroke-width="0.9"/>
<polygon points="880,421.28 882,417.48 979.5,417.48 980,421.28 979.5,425.08 882,425.08" fill="#4aa322" stroke="#357d16" stroke-width="0.9"/>
<rect x="908" y="417.78" width="4" height="7" fill="#0a0a7a"/>
<rect x="966" y="417.78" width="5" height="7" fill="#a00000"/>
<rect x="971" y="417.78" width="9" height="7" fill="#0000d2"/>
<line x1="531" y1="437.13" x2="978" y2="437.13" stroke="#5e5e5e" stroke-width="2.2"/>
<polygon points="529,437.13 529.5,433.33 627.5,433.33 629.7,437.13 627.5,440.93 529.5,440.93" fill="#4aa322" stroke="#357d16" stroke-width="0.9"/>
<polygon points="647.9,437.13 649.9,433.33 738.1,433.33 740.3,437.13 738.1,440.93 649.9,440.93" fill="#4aa322" stroke="#357d16" stroke-width="0.9"/>
<polygon points="880,437.13 882,433.33 979.5,433.33 980,437.13 979.5,440.93 882,440.93" fill="#4aa322" stroke="#357d16" stroke-width="0.9"/>
<rect x="894.4" y="433.63" width="4.2" height="7" fill="#0a0a7a"/>
<rect x="966" y="433.63" width="5" height="7" fill="#a00000"/>
<rect x="971" y="433.63" width="9" height="7" fill="#0000d2"/>
<line x1="531" y1="452.97" x2="978" y2="452.97" stroke="#5e5e5e" stroke-width="2.2"/>
<polygon points="529,452.97 529.5,449.17 627.5,449.17 629.7,452.97 627.5,456.77 529.5,456.77" fill="#4aa322" stroke="#357d16" stroke-width="0.9"/>
<polygon points="647.9,452.97 649.9,449.17 738.1,449.17 740.3,452.97 738.1,456.77 649.9,456.77" fill="#4aa322" stroke="#357d16" stroke-width="0.9"/>
<polygon points="880,452.97 882,449.17 979.5,449.17 980,452.97 979.5,456.77 882,456.77" fill="#4aa322" stroke="#357d16" stroke-width="0.9"/>
<rect x="894.4" y="449.47" width="4.2" height="7" fill="#0a0a7a"/>
<rect x="966" y="449.47" width="5" height="7" fill="#a00000"/>
<rect x="971" y="449.47" width="9" height="7" fill="#0000d2"/>
<line x1="531" y1="468.82" x2="978" y2="468.82" stroke="#5e5e5e" stroke-width="2.2"/>
<polygon points="529,468.82 529.5,465.02 627.5,465.02 629.7,468.82 627.5,472.62 529.5,472.62" fill="#4aa322" stroke="#357d16" stroke-width="0.9"/>
<polygon points="647.9,468.82 649.9,465.02 738.1,465.02 740.3,468.82 738.1,472.62 649.9,472.62" fill="#4aa322" stroke="#357d16" stroke-width="0.9"/>
<polygon points="880,468.82 882,465.02 979.5,465.02 980,468.82 979.5,472.62 882,472.62" fill="#4aa322" stroke="#357d16" stroke-width="0.9"/>
<rect x="889.8" y="465.32" width="4.2" height="7" fill="#0a0a7a"/>
<rect x="966" y="465.32" width="5" height="7" fill="#a00000"/>
<rect x="971" y="465.32" width="9" height="7" fill="#0000d2"/>
<line x1="531" y1="484.67" x2="978" y2="484.67" stroke="#5e5e5e" stroke-width="2.2"/>
<polygon points="529,484.67 529.5,480.87 627.5,480.87 629.7,484.67 627.5,488.47 529.5,488.47" fill="#4aa322" stroke="#357d16" stroke-width="0.9"/>
<polygon points="647.9,484.67 649.9,480.87 738.1,480.87 740.3,484.67 738.1,488.47 649.9,488.47" fill="#4aa322" stroke="#357d16" stroke-width="0.9"/>
<polygon points="880,484.67 882,480.87 979.5,480.87 980,484.67 979.5,488.47 882,488.47" fill="#4aa322" stroke="#357d16" stroke-width="0.9"/>
<rect x="538.4" y="481.17" width="4.6" height="7" fill="#0a0a7a"/>
<rect x="884.5" y="481.17" width="5.5" height="7" fill="#a00000"/>
<rect x="966" y="481.17" width="5" height="7" fill="#a00000"/>
<rect x="971" y="481.17" width="9" height="7" fill="#0000d2"/>
<line x1="531" y1="500.51" x2="978" y2="500.51" stroke="#5e5e5e" stroke-width="2.2"/>
<polygon points="529,500.51 529.5,496.71 627.5,496.71 629.7,500.51 627.5,504.31 529.5,504.31" fill="#4aa322" stroke="#357d16" stroke-width="0.9"/>
<polygon points="647.9,500.51 649.9,496.71 738.1,496.71 740.3,500.51 738.1,504.31 649.9,504.31" fill="#4aa322" stroke="#357d16" stroke-width="0.9"/>
<polygon points="880,500.51 882,496.71 979.5,496.71 980,500.51 979.5,504.31 882,504.31" fill="#4aa322" stroke="#357d16" stroke-width="0.9"/>
<rect x="903" y="497.01" width="4.5" height="7" fill="#0a0a7a"/>
<rect x="966" y="497.01" width="5" height="7" fill="#a00000"/>
<rect x="971" y="497.01" width="9" height="7" fill="#0000d2"/>
<line x1="531" y1="516.36" x2="978" y2="516.36" stroke="#5e5e5e" stroke-width="2.2"/>
<polygon points="529,516.36 529.5,512.56 627.5,512.56 629.7,516.36 627.5,520.16 529.5,520.16" fill="#4aa322" stroke="#357d16" stroke-width="0.9"/>
<polygon points="647.9,516.36 649.9,512.56 738.1,512.56 740.3,516.36 738.1,520.16 649.9,520.16" fill="#4aa322" stroke="#357d16" stroke-width="0.9"/>
<polygon points="880,516.36 882,512.56 979.5,512.56 980,516.36 979.5,520.16 882,520.16" fill="#4aa322" stroke="#357d16" stroke-width="0.9"/>
<rect x="926.4" y="512.86" width="3.6" height="7" fill="#0a0a7a"/>
<rect x="966" y="512.86" width="5" height="7" fill="#a00000"/>
<rect x="971" y="512.86" width="9" height="7" fill="#0000d2"/>
<line x1="531" y1="532.2" x2="978" y2="532.2" stroke="#5e5e5e" stroke-width="2.2"/>
<polygon points="529,532.2 529.5,528.4 627.5,528.4 629.7,532.2 627.5,536 529.5,536" fill="#4aa322" stroke="#357d16" stroke-width="0.9"/>
<polygon points="647.9,532.2 649.9,528.4 738.1,528.4 740.3,532.2 738.1,536 649.9,536" fill="#4aa322" stroke="#357d16" stroke-width="0.9"/>
<polygon points="880,532.2 882,528.4 979.5,528.4 980,532.2 979.5,536 882,536" fill="#4aa322" stroke="#357d16" stroke-width="0.9"/>
<rect x="909.6" y="528.7" width="3.4" height="7" fill="#0a0a7a"/>
<rect x="966" y="528.7" width="5" height="7" fill="#a00000"/>
<rect x="971" y="528.7" width="9" height="7" fill="#0000d2"/>
<line x1="531" y1="548.05" x2="978" y2="548.05" stroke="#5e5e5e" stroke-width="2.2"/>
<polygon points="529,548.05 529.5,544.25 627.5,544.25 629.7,548.05 627.5,551.85 529.5,551.85" fill="#4aa322" stroke="#357d16" stroke-width="0.9"/>
<polygon points="647.9,548.05 649.9,544.25 738.1,544.25 740.3,548.05 738.1,551.85 649.9,551.85" fill="#4aa322" stroke="#357d16" stroke-width="0.9"/>
<polygon points="880,548.05 882,544.25 979.5,544.25 980,548.05 979.5,551.85 882,551.85" fill="#4aa322" stroke="#357d16" stroke-width="0.9"/>
<rect x="950.8" y="544.55" width="4.2" height="7" fill="#0a0a7a"/>
<rect x="966" y="544.55" width="5" height="7" fill="#a00000"/>
<rect x="971" y="544.55" width="9" height="7" fill="#0000d2"/>
<line x1="531" y1="563.9" x2="978" y2="563.9" stroke="#5e5e5e" stroke-width="2.2"/>
<polygon points="529,563.9 529.5,560.1 627.5,560.1 629.7,563.9 627.5,567.7 529.5,567.7" fill="#4aa322" stroke="#357d16" stroke-width="0.9"/>
<polygon points="647.9,563.9 649.9,560.1 738.1,560.1 740.3,563.9 738.1,567.7 649.9,567.7" fill="#4aa322" stroke="#357d16" stroke-width="0.9"/>
<polygon points="880,563.9 882,560.1 979.5,560.1 980,563.9 979.5,567.7 882,567.7" fill="#4aa322" stroke="#357d16" stroke-width="0.9"/>
<rect x="538.4" y="560.4" width="4.6" height="7" fill="#0a0a7a"/>
<rect x="950.8" y="560.4" width="4.2" height="7" fill="#0a0a7a"/>
<rect x="962" y="560.4" width="9" height="7" fill="#e00000"/>
<rect x="971" y="560.4" width="9" height="7" fill="#0000d2"/>
<line x1="531" y1="579.74" x2="978" y2="579.74" stroke="#5e5e5e" stroke-width="2.2"/>
<polygon points="529,579.74 529.5,575.94 627.5,575.94 629.7,579.74 627.5,583.54 529.5,583.54" fill="#4aa322" stroke="#357d16" stroke-width="0.9"/>
<polygon points="647.9,579.74 649.9,575.94 738.1,575.94 740.3,579.74 738.1,583.54 649.9,583.54" fill="#4aa322" stroke="#357d16" stroke-width="0.9"/>
<polygon points="880,579.74 882,575.94 979.5,575.94 980,579.74 979.5,583.54 882,583.54" fill="#4aa322" stroke="#357d16" stroke-width="0.9"/>
<rect x="914" y="576.24" width="4" height="7" fill="#a00000"/>
<rect x="966" y="576.24" width="5" height="7" fill="#a00000"/>
<rect x="971" y="576.24" width="9" height="7" fill="#0000d2"/>
<line x1="531" y1="595.59" x2="978" y2="595.59" stroke="#5e5e5e" stroke-width="2.2"/>
<polygon points="529,595.59 529.5,591.79 627.5,591.79 629.7,595.59 627.5,599.39 529.5,599.39" fill="#4aa322" stroke="#357d16" stroke-width="0.9"/>
<polygon points="647.9,595.59 649.9,591.79 738.1,591.79 740.3,595.59 738.1,599.39 649.9,599.39" fill="#4aa322" stroke="#357d16" stroke-width="0.9"/>
<polygon points="880,595.59 882,591.79 979.5,591.79 980,595.59 979.5,599.39 882,599.39" fill="#4aa322" stroke="#357d16" stroke-width="0.9"/>
<rect x="950.8" y="592.09" width="4.2" height="7" fill="#0a0a7a"/>
<rect x="966" y="592.09" width="5" height="7" fill="#a00000"/>
<rect x="971" y="592.09" width="9" height="7" fill="#0000d2"/>
<line x1="531" y1="611.43" x2="978" y2="611.43" stroke="#5e5e5e" stroke-width="2.2"/>
<polygon points="529,611.43 529.5,607.63 627.5,607.63 629.7,611.43 627.5,615.23 529.5,615.23" fill="#4aa322" stroke="#357d16" stroke-width="0.9"/>
<polygon points="647.9,611.43 649.9,607.63 738.1,607.63 740.3,611.43 738.1,615.23 649.9,615.23" fill="#4aa322" stroke="#357d16" stroke-width="0.9"/>
<polygon points="880,611.43 882,607.63 979.5,607.63 980,611.43 979.5,615.23 882,615.23" fill="#4aa322" stroke="#357d16" stroke-width="0.9"/>
<rect x="538.4" y="607.93" width="4.6" height="7" fill="#0a0a7a"/>
<rect x="891.7" y="607.93" width="3.8" height="7" fill="#a00000"/>
<rect x="966" y="607.93" width="5" height="7" fill="#a00000"/>
<rect x="971" y="607.93" width="9" height="7" fill="#0000d2"/>
<line x1="531" y1="627.28" x2="978" y2="627.28" stroke="#5e5e5e" stroke-width="2.2"/>
<polygon points="529,627.28 529.5,623.48 627.5,623.48 629.7,627.28 627.5,631.08 529.5,631.08" fill="#4aa322" stroke="#357d16" stroke-width="0.9"/>
<polygon points="647.9,627.28 649.9,623.48 738.1,623.48 740.3,627.28 738.1,631.08 649.9,631.08" fill="#4aa322" stroke="#357d16" stroke-width="0.9"/>
<polygon points="880,627.28 882,623.48 979.5,623.48 980,627.28 979.5,631.08 882,631.08" fill="#4aa322" stroke="#357d16" stroke-width="0.9"/>
<rect x="896" y="623.78" width="3.5" height="7" fill="#a00000"/>
<rect x="966" y="623.78" width="5" height="7" fill="#a00000"/>
<rect x="971" y="623.78" width="9" height="7" fill="#0000d2"/>
<line x1="531" y1="643.13" x2="978" y2="643.13" stroke="#5e5e5e" stroke-width="2.2"/>
<polygon points="529,643.13 529.5,639.33 627.5,639.33 629.7,643.13 627.5,646.93 529.5,646.93" fill="#4aa322" stroke="#357d16" stroke-width="0.9"/>
<polygon points="647.9,643.13 649.9,639.33 738.1,639.33 740.3,643.13 738.1,646.93 649.9,646.93" fill="#4aa322" stroke="#357d16" stroke-width="0.9"/>
<polygon points="880,643.13 882,639.33 979.5,639.33 980,643.13 979.5,646.93 882,646.93" fill="#4aa322" stroke="#357d16" stroke-width="0.9"/>
<rect x="923.6" y="639.63" width="3.9" height="7" fill="#0a0a7a"/>
<rect x="966" y="639.63" width="5" height="7" fill="#a00000"/>
<rect x="971" y="639.63" width="9" height="7" fill="#0000d2"/>
<line x1="531" y1="658.97" x2="978" y2="658.97" stroke="#5e5e5e" stroke-width="2.2"/>
<polygon points="529,658.97 529.5,655.17 627.5,655.17 629.7,658.97 627.5,662.77 529.5,662.77" fill="#4aa322" stroke="#357d16" stroke-width="0.9"/>
<polygon points="647.9,658.97 649.9,655.17 738.1,655.17 740.3,658.97 738.1,662.77 649.9,662.77" fill="#4aa322" stroke="#357d16" stroke-width="0.9"/>
<polygon points="880,658.97 882,655.17 979.5,655.17 980,658.97 979.5,662.77 882,662.77" fill="#4aa322" stroke="#357d16" stroke-width="0.9"/>
<rect x="950.8" y="655.47" width="4.2" height="7" fill="#a00000"/>
<rect x="966" y="655.47" width="5" height="7" fill="#a00000"/>
<rect x="971" y="655.47" width="9" height="7" fill="#0000d2"/>
<line x1="531" y1="674.82" x2="978" y2="674.82" stroke="#5e5e5e" stroke-width="2.2"/>
<polygon points="529,674.82 529.5,671.02 627.5,671.02 629.7,674.82 627.5,678.62 529.5,678.62" fill="#4aa322" stroke="#357d16" stroke-width="0.9"/>
<polygon points="647.9,674.82 649.9,671.02 738.1,671.02 740.3,674.82 738.1,678.62 649.9,678.62" fill="#4aa322" stroke="#357d16" stroke-width="0.9"/>
<polygon points="880,674.82 882,671.02 979.5,671.02 980,674.82 979.5,678.62 882,678.62" fill="#4aa322" stroke="#357d16" stroke-width="0.9"/>
<rect x="538.4" y="671.32" width="4.6" height="7" fill="#0a0a7a"/>
<rect x="886" y="671.32" width="4" height="7" fill="#0a0a7a"/>
<rect x="966" y="671.32" width="5" height="7" fill="#a00000"/>
<rect x="971" y="671.32" width="9" height="7" fill="#0000d2"/>
<line x1="531" y1="690.66" x2="978" y2="690.66" stroke="#5e5e5e" stroke-width="2.2"/>
<polygon points="529,690.66 529.5,686.86 627.5,686.86 629.7,690.66 627.5,694.46 529.5,694.46" fill="#4aa322" stroke="#357d16" stroke-width="0.9"/>
<polygon points="647.9,690.66 649.9,686.86 738.1,686.86 740.3,690.66 738.1,694.46 649.9,694.46" fill="#4aa322" stroke="#357d16" stroke-width="0.9"/>
<polygon points="880,690.66 882,686.86 979.5,686.86 980,690.66 979.5,694.46 882,694.46" fill="#4aa322" stroke="#357d16" stroke-width="0.9"/>
<rect x="538.4" y="687.16" width="4.6" height="7" fill="#0a0a7a"/>
<rect x="896" y="687.16" width="3.5" height="7" fill="#a00000"/>
<rect x="966" y="687.16" width="5" height="7" fill="#a00000"/>
<rect x="971" y="687.16" width="9" height="7" fill="#0000d2"/>
<line x1="531" y1="706.51" x2="978" y2="706.51" stroke="#5e5e5e" stroke-width="2.2"/>
<polygon points="529,706.51 529.5,702.71 627.5,702.71 629.7,706.51 627.5,710.31 529.5,710.31" fill="#4aa322" stroke="#357d16" stroke-width="0.9"/>
<polygon points="647.9,706.51 649.9,702.71 738.1,702.71 740.3,706.51 738.1,710.31 649.9,710.31" fill="#4aa322" stroke="#357d16" stroke-width="0.9"/>
<polygon points="880,706.51 882,702.71 979.5,702.71 980,706.51 979.5,710.31 882,710.31" fill="#4aa322" stroke="#357d16" stroke-width="0.9"/>
<rect x="896" y="703.01" width="3.5" height="7" fill="#a00000"/>
<rect x="966" y="703.01" width="5" height="7" fill="#a00000"/>
<rect x="971" y="703.01" width="9" height="7" fill="#0000d2"/>
<line x1="531" y1="722.36" x2="978" y2="722.36" stroke="#5e5e5e" stroke-width="2.2"/>
<polygon points="529,722.36 529.5,718.56 627.5,718.56 629.7,722.36 627.5,726.16 529.5,726.16" fill="#4aa322" stroke="#357d16" stroke-width="0.9"/>
<polygon points="647.9,722.36 649.9,718.56 738.1,718.56 740.3,722.36 738.1,726.16 649.9,726.16" fill="#4aa322" stroke="#357d16" stroke-width="0.9"/>
<polygon points="880,722.36 882,718.56 979.5,718.56 980,722.36 979.5,726.16 882,726.16" fill="#4aa322" stroke="#357d16" stroke-width="0.9"/>
<rect x="529.5" y="718.86" width="4.5" height="7" fill="#0a0a7a"/>
<rect x="538.4" y="718.86" width="9.2" height="7" fill="#e00000"/>
<rect x="966" y="718.86" width="5" height="7" fill="#a00000"/>
<rect x="971" y="718.86" width="9" height="7" fill="#0000d2"/>
<line x1="531" y1="738.2" x2="978" y2="738.2" stroke="#5e5e5e" stroke-width="2.2"/>
<polygon points="529,738.2 529.5,734.4 627.5,734.4 629.7,738.2 627.5,742 529.5,742" fill="#4aa322" stroke="#357d16" stroke-width="0.9"/>
<polygon points="647.9,738.2 649.9,734.4 738.1,734.4 740.3,738.2 738.1,742 649.9,742" fill="#4aa322" stroke="#357d16" stroke-width="0.9"/>
<polygon points="880,738.2 882,734.4 979.5,734.4 980,738.2 979.5,742 882,742" fill="#4aa322" stroke="#357d16" stroke-width="0.9"/>
<rect x="940.4" y="734.7" width="4.1" height="7" fill="#a00000"/>
<rect x="966" y="734.7" width="5" height="7" fill="#a00000"/>
<rect x="971" y="734.7" width="9" height="7" fill="#0000d2"/>
<line x1="531" y1="754.05" x2="978" y2="754.05" stroke="#5e5e5e" stroke-width="2.2"/>
<polygon points="529,754.05 529.5,750.25 627.5,750.25 629.7,754.05 627.5,757.85 529.5,757.85" fill="#4aa322" stroke="#357d16" stroke-width="0.9"/>
<polygon points="647.9,754.05 649.9,750.25 738.1,750.25 740.3,754.05 738.1,757.85 649.9,757.85" fill="#4aa322" stroke="#357d16" stroke-width="0.9"/>
<polygon points="880,754.05 882,750.25 979.5,750.25 980,754.05 979.5,757.85 882,757.85" fill="#4aa322" stroke="#357d16" stroke-width="0.9"/>
<rect x="889.8" y="750.55" width="4.2" height="7" fill="#0a0a7a"/>
<rect x="966" y="750.55" width="5" height="7" fill="#a00000"/>
<rect x="971" y="750.55" width="9" height="7" fill="#0000d2"/>
<line x1="531" y1="769.89" x2="978" y2="769.89" stroke="#5e5e5e" stroke-width="2.2"/>
<polygon points="529,769.89 529.5,766.09 627.5,766.09 629.7,769.89 627.5,773.69 529.5,773.69" fill="#4aa322" stroke="#357d16" stroke-width="0.9"/>
<polygon points="647.9,769.89 649.9,766.09 738.1,766.09 740.3,769.89 738.1,773.69 649.9,773.69" fill="#4aa322" stroke="#357d16" stroke-width="0.9"/>
<polygon points="880,769.89 882,766.09 979.5,766.09 980,769.89 979.5,773.69 882,773.69" fill="#4aa322" stroke="#357d16" stroke-width="0.9"/>
<rect x="945.3" y="766.39" width="4.2" height="7" fill="#0a0a7a"/>
<rect x="966" y="766.39" width="5" height="7" fill="#a00000"/>
<rect x="971" y="766.39" width="9" height="7" fill="#0000d2"/>
<line x1="531" y1="785.74" x2="978" y2="785.74" stroke="#5e5e5e" stroke-width="2.2"/>
<polygon points="529,785.74 529.5,781.94 627.5,781.94 629.7,785.74 627.5,789.54 529.5,789.54" fill="#4aa322" stroke="#357d16" stroke-width="0.9"/>
<polygon points="647.9,785.74 649.9,781.94 738.1,781.94 740.3,785.74 738.1,789.54 649.9,789.54" fill="#4aa322" stroke="#357d16" stroke-width="0.9"/>
<polygon points="880,785.74 882,781.94 979.5,781.94 980,785.74 979.5,789.54 882,789.54" fill="#4aa322" stroke="#357d16" stroke-width="0.9"/>
<rect x="941.3" y="782.24" width="4.2" height="7" fill="#0a0a7a"/>
<rect x="966" y="782.24" width="5" height="7" fill="#a00000"/>
<rect x="971" y="782.24" width="9" height="7" fill="#0000d2"/>
<line x1="531" y1="801.59" x2="978" y2="801.59" stroke="#5e5e5e" stroke-width="2.2"/>
<polygon points="529,801.59 529.5,797.79 627.5,797.79 629.7,801.59 627.5,805.39 529.5,805.39" fill="#4aa322" stroke="#357d16" stroke-width="0.9"/>
<polygon points="647.9,801.59 649.9,797.79 738.1,797.79 740.3,801.59 738.1,805.39 649.9,805.39" fill="#4aa322" stroke="#357d16" stroke-width="0.9"/>
<polygon points="880,801.59 882,797.79 979.5,797.79 980,801.59 979.5,805.39 882,805.39" fill="#4aa322" stroke="#357d16" stroke-width="0.9"/>
<rect x="914" y="798.09" width="4" height="7" fill="#a00000"/>
<rect x="966" y="798.09" width="5" height="7" fill="#a00000"/>
<rect x="971" y="798.09" width="9" height="7" fill="#0000d2"/>
<line x1="531" y1="817.43" x2="978" y2="817.43" stroke="#5e5e5e" stroke-width="2.2"/>
<polygon points="529,817.43 529.5,813.63 627.5,813.63 629.7,817.43 627.5,821.23 529.5,821.23" fill="#4aa322" stroke="#357d16" stroke-width="0.9"/>
<polygon points="647.9,817.43 649.9,813.63 738.1,813.63 740.3,817.43 738.1,821.23 649.9,821.23" fill="#4aa322" stroke="#357d16" stroke-width="0.9"/>
<polygon points="880,817.43 882,813.63 979.5,813.63 980,817.43 979.5,821.23 882,821.23" fill="#4aa322" stroke="#357d16" stroke-width="0.9"/>
<rect x="538.4" y="813.93" width="4.6" height="7" fill="#0a0a7a"/>
<rect x="914" y="813.93" width="4" height="7" fill="#0a0a7a"/>
<rect x="966" y="813.93" width="5" height="7" fill="#a00000"/>
<rect x="971" y="813.93" width="9" height="7" fill="#0000d2"/>
<line x1="531" y1="833.28" x2="978" y2="833.28" stroke="#5e5e5e" stroke-width="2.2"/>
<polygon points="529,833.28 529.5,829.48 627.5,829.48 629.7,833.28 627.5,837.08 529.5,837.08" fill="#4aa322" stroke="#357d16" stroke-width="0.9"/>
<polygon points="647.9,833.28 649.9,829.48 738.1,829.48 740.3,833.28 738.1,837.08 649.9,837.08" fill="#4aa322" stroke="#357d16" stroke-width="0.9"/>
<polygon points="880,833.28 882,829.48 979.5,829.48 980,833.28 979.5,837.08 882,837.08" fill="#4aa322" stroke="#357d16" stroke-width="0.9"/>
<rect x="931.8" y="829.78" width="4.2" height="7" fill="#a00000"/>
<rect x="966" y="829.78" width="5" height="7" fill="#a00000"/>
<rect x="971" y="829.78" width="9" height="7" fill="#0000d2"/>
<line x1="531" y1="849.12" x2="978" y2="849.12" stroke="#5e5e5e" stroke-width="2.2"/>
<polygon points="529,849.12 529.5,845.32 627.5,845.32 629.7,849.12 627.5,852.92 529.5,852.92" fill="#4aa322" stroke="#357d16" stroke-width="0.9"/>
<polygon points="647.9,849.12 649.9,845.32 738.1,845.32 740.3,849.12 738.1,852.92 649.9,852.92" fill="#4aa322" stroke="#357d16" stroke-width="0.9"/>
<polygon points="880,849.12 882,845.32 979.5,845.32 980,849.12 979.5,852.92 882,852.92" fill="#4aa322" stroke="#357d16" stroke-width="0.9"/>
<rect x="931.8" y="845.62" width="4.2" height="7" fill="#0a0a7a"/>
<rect x="966" y="845.62" width="5" height="7" fill="#a00000"/>
<rect x="971" y="845.62" width="9" height="7" fill="#0000d2"/>
<line x1="531" y1="864.97" x2="978" y2="864.97" stroke="#5e5e5e" stroke-width="2.2"/>
<polygon points="529,864.97 529.5,861.17 627.5,861.17 629.7,864.97 627.5,868.77 529.5,868.77" fill="#4aa322" stroke="#357d16" stroke-width="0.9"/>
<polygon points="647.9,864.97 649.9,861.17 738.1,861.17 740.3,864.97 738.1,868.77 649.9,868.77" fill="#4aa322" stroke="#357d16" stroke-width="0.9"/>
<polygon points="880,864.97 882,861.17 979.5,861.17 980,864.97 979.5,868.77 882,868.77" fill="#4aa322" stroke="#357d16" stroke-width="0.9"/>
<rect x="881.6" y="861.47" width="3.9" height="7" fill="#0a0a7a"/>
<rect x="966" y="861.47" width="5" height="7" fill="#a00000"/>
<rect x="971" y="861.47" width="9" height="7" fill="#0000d2"/>
<line x1="531" y1="880.82" x2="978" y2="880.82" stroke="#5e5e5e" stroke-width="2.2"/>
<polygon points="529,880.82 529.5,877.02 627.5,877.02 629.7,880.82 627.5,884.62 529.5,884.62" fill="#4aa322" stroke="#357d16" stroke-width="0.9"/>
<polygon points="647.9,880.82 649.9,877.02 738.1,877.02 740.3,880.82 738.1,884.62 649.9,884.62" fill="#4aa322" stroke="#357d16" stroke-width="0.9"/>
<polygon points="880,880.82 882,877.02 979.5,877.02 980,880.82 979.5,884.62 882,884.62" fill="#4aa322" stroke="#357d16" stroke-width="0.9"/>
<rect x="917.7" y="877.32" width="4.3" height="7" fill="#a00000"/>
<rect x="966" y="877.32" width="5" height="7" fill="#a00000"/>
<rect x="971" y="877.32" width="9" height="7" fill="#0000d2"/>
<line x1="531" y1="896.66" x2="978" y2="896.66" stroke="#5e5e5e" stroke-width="2.2"/>
<polygon points="529,896.66 529.5,892.86 627.5,892.86 629.7,896.66 627.5,900.46 529.5,900.46" fill="#4aa322" stroke="#357d16" stroke-width="0.9"/>
<polygon points="647.9,896.66 649.9,892.86 738.1,892.86 740.3,896.66 738.1,900.46 649.9,900.46" fill="#4aa322" stroke="#357d16" stroke-width="0.9"/>
<polygon points="880,896.66 882,892.86 979.5,892.86 980,896.66 979.5,900.46 882,900.46" fill="#4aa322" stroke="#357d16" stroke-width="0.9"/>
<rect x="962" y="893.16" width="9" height="7" fill="#e00000"/>
<rect x="971" y="893.16" width="9" height="7" fill="#0000d2"/>
<line x1="531" y1="912.51" x2="978" y2="912.51" stroke="#5e5e5e" stroke-width="2.2"/>
<polygon points="529,912.51 529.5,908.71 627.5,908.71 629.7,912.51 627.5,916.31 529.5,916.31" fill="#4aa322" stroke="#357d16" stroke-width="0.9"/>
<polygon points="647.9,912.51 649.9,908.71 738.1,908.71 740.3,912.51 738.1,916.31 649.9,916.31" fill="#4aa322" stroke="#357d16" stroke-width="0.9"/>
<polygon points="880,912.51 882,908.71 979.5,908.71 980,912.51 979.5,916.31 882,916.31" fill="#4aa322" stroke="#357d16" stroke-width="0.9"/>
<rect x="538.4" y="909.01" width="4.6" height="7" fill="#0a0a7a"/>
<rect x="932.3" y="909.01" width="4.2" height="7" fill="#0a0a7a"/>
<rect x="966" y="909.01" width="5" height="7" fill="#a00000"/>
<rect x="971" y="909.01" width="9" height="7" fill="#0000d2"/>
<line x1="531" y1="928.35" x2="978" y2="928.35" stroke="#5e5e5e" stroke-width="2.2"/>
<polygon points="529,928.35 529.5,924.55 627.5,924.55 629.7,928.35 627.5,932.15 529.5,932.15" fill="#4aa322" stroke="#357d16" stroke-width="0.9"/>
<polygon points="647.9,928.35 649.9,924.55 738.1,924.55 740.3,928.35 738.1,932.15 649.9,932.15" fill="#4aa322" stroke="#357d16" stroke-width="0.9"/>
<polygon points="880,928.35 882,924.55 979.5,924.55 980,928.35 979.5,932.15 882,932.15" fill="#4aa322" stroke="#357d16" stroke-width="0.9"/>
<ellipse cx="832" cy="928.35" rx="2.6" ry="4.3" fill="#0a0a9a"/>
<rect x="955.4" y="924.85" width="4.1" height="7" fill="#0a0a7a"/>
<rect x="966" y="924.85" width="5" height="7" fill="#a00000"/>
<rect x="971" y="924.85" width="9" height="7" fill="#0000d2"/>
<line x1="531" y1="944.2" x2="978" y2="944.2" stroke="#5e5e5e" stroke-width="2.2"/>
<polygon points="529,944.2 529.5,940.4 627.5,940.4 629.7,944.2 627.5,948 529.5,948" fill="#4aa322" stroke="#357d16" stroke-width="0.9"/>
<polygon points="647.9,944.2 649.9,940.4 738.1,940.4 740.3,944.2 738.1,948 649.9,948" fill="#4aa322" stroke="#357d16" stroke-width="0.9"/>
<polygon points="880,944.2 882,940.4 979.5,940.4 980,944.2 979.5,948 882,948" fill="#4aa322" stroke="#357d16" stroke-width="0.9"/>
<rect x="918.8" y="940.7" width="4.2" height="7" fill="#0a0a7a"/>
<rect x="966" y="940.7" width="5" height="7" fill="#a00000"/>
<rect x="971" y="940.7" width="9" height="7" fill="#0000d2"/>
<line x1="531" y1="960.05" x2="978" y2="960.05" stroke="#5e5e5e" stroke-width="2.2"/>
<polygon points="529,960.05 529.5,956.25 627.5,956.25 629.7,960.05 627.5,963.85 529.5,963.85" fill="#4aa322" stroke="#357d16" stroke-width="0.9"/>
<polygon points="647.9,960.05 649.9,956.25 738.1,956.25 740.3,960.05 738.1,963.85 649.9,963.85" fill="#4aa322" stroke="#357d16" stroke-width="0.9"/>
<polygon points="880,960.05 882,956.25 979.5,956.25 980,960.05 979.5,963.85 882,963.85" fill="#4aa322" stroke="#357d16" stroke-width="0.9"/>
<rect x="962" y="956.55" width="9" height="7" fill="#e00000"/>
<rect x="971" y="956.55" width="9" height="7" fill="#0000d2"/>
<line x1="531" y1="975.89" x2="978" y2="975.89" stroke="#5e5e5e" stroke-width="2.2"/>
<polygon points="529,975.89 529.5,972.09 627.5,972.09 629.7,975.89 627.5,979.69 529.5,979.69" fill="#4aa322" stroke="#357d16" stroke-width="0.9"/>
<polygon points="647.9,975.89 649.9,972.09 738.1,972.09 740.3,975.89 738.1,979.69 649.9,979.69" fill="#4aa322" stroke="#357d16" stroke-width="0.9"/>
<polygon points="880,975.89 882,972.09 979.5,972.09 980,975.89 979.5,979.69 882,979.69" fill="#4aa322" stroke="#357d16" stroke-width="0.9"/>
<rect x="966" y="972.39" width="5" height="7" fill="#a00000"/>
<rect x="971" y="972.39" width="9" height="7" fill="#0000d2"/>
<line x1="531" y1="991.74" x2="978" y2="991.74" stroke="#5e5e5e" stroke-width="2.2"/>
<polygon points="529,991.74 529.5,987.94 627.5,987.94 629.7,991.74 627.5,995.54 529.5,995.54" fill="#4aa322" stroke="#357d16" stroke-width="0.9"/>
<polygon points="647.9,991.74 649.9,987.94 738.1,987.94 740.3,991.74 738.1,995.54 649.9,995.54" fill="#4aa322" stroke="#357d16" stroke-width="0.9"/>
<polygon points="880,991.74 882,987.94 979.5,987.94 980,991.74 979.5,995.54 882,995.54" fill="#4aa322" stroke="#357d16" stroke-width="0.9"/>
<rect x="966" y="988.24" width="5" height="7" fill="#a00000"/>
<rect x="971" y="988.24" width="9" height="7" fill="#0000d2"/>
<line x1="531" y1="1007.58" x2="978" y2="1007.58" stroke="#5e5e5e" stroke-width="2.2"/>
<polygon points="529,1007.58 529.5,1003.78 627.5,1003.78 629.7,1007.58 627.5,1011.38 529.5,1011.38" fill="#4aa322" stroke="#357d16" stroke-width="0.9"/>
<polygon points="647.9,1007.58 649.9,1003.78 738.1,1003.78 740.3,1007.58 738.1,1011.38 649.9,1011.38" fill="#4aa322" stroke="#357d16" stroke-width="0.9"/>
<polygon points="880,1007.58 882,1003.78 979.5,1003.78 980,1007.58 979.5,1011.38 882,1011.38" fill="#4aa322" stroke="#357d16" stroke-width="0.9"/>
<rect x="538.4" y="1004.08" width="4.6" height="7" fill="#0a0a7a"/>
<rect x="962" y="1004.08" width="3.5" height="7" fill="#0a0a7a"/>
<rect x="965.5" y="1004.08" width="4" height="7" fill="#a00000"/>
<rect x="976" y="1004.08" width="3" height="7" fill="#0a0a7a"/>
<line x1="531" y1="1023.43" x2="978" y2="1023.43" stroke="#5e5e5e" stroke-width="2.2"/>
<polygon points="529,1023.43 529.5,1019.63 627.5,1019.63 629.7,1023.43 627.5,1027.23 529.5,1027.23" fill="#4aa322" stroke="#357d16" stroke-width="0.9"/>
<polygon points="647.9,1023.43 649.9,1019.63 738.1,1019.63 740.3,1023.43 738.1,1027.23 649.9,1027.23" fill="#4aa322" stroke="#357d16" stroke-width="0.9"/>
<polygon points="880,1023.43 882,1019.63 979.5,1019.63 980,1023.43 979.5,1027.23 882,1027.23" fill="#4aa322" stroke="#357d16" stroke-width="0.9"/>
<rect x="529.5" y="1019.93" width="4.5" height="7" fill="#0a0a7a"/>
<rect x="538.5" y="1019.93" width="13.5" height="7" fill="#e00000"/>
<rect x="966" y="1019.93" width="5" height="7" fill="#a00000"/>
<rect x="971" y="1019.93" width="9" height="7" fill="#0000d2"/>
<path d="M517.4,152.4 L500.7,152.4 Q495.7,152.4 495.7,157.4 L495.7,1018.9 Q495.7,1023.9 500.7,1023.9 L517.4,1023.9" fill="none" stroke="#000" stroke-width="3.6" stroke-linecap="round" stroke-linejoin="round"/>
<line x1="439" y1="587.5" x2="495.7" y2="587.5" stroke="#000" stroke-width="3.6" stroke-linecap="round"/>
<text x="346" y="595.6" class="gl" textLength="83" lengthAdjust="spacingAndGlyphs">China N</text>
<line x1="462.5" y1="1039.28" x2="978" y2="1039.28" stroke="#5e5e5e" stroke-width="2.2"/>
<polygon points="460.5,1039.28 461,1035.48 568.2,1035.48 570.4,1039.28 568.2,1043.08 461,1043.08" fill="#4aa322" stroke="#357d16" stroke-width="0.9"/>
<polygon points="734.6,1039.28 736.6,1035.48 860.2,1035.48 862.4,1039.28 860.2,1043.08 736.6,1043.08" fill="#4aa322" stroke="#357d16" stroke-width="0.9"/>
<polygon points="889.5,1039.28 891.5,1035.48 979.5,1035.48 980,1039.28 979.5,1043.08 891.5,1043.08" fill="#4aa322" stroke="#357d16" stroke-width="0.9"/>
<line x1="462.5" y1="1055.12" x2="978" y2="1055.12" stroke="#5e5e5e" stroke-width="2.2"/>
<polygon points="460.5,1055.12 461,1051.32 568.2,1051.32 570.4,1055.12 568.2,1058.92 461,1058.92" fill="#4aa322" stroke="#357d16" stroke-width="0.9"/>
<polygon points="734.6,1055.12 736.6,1051.32 860.2,1051.32 862.4,1055.12 860.2,1058.92 736.6,1058.92" fill="#4aa322" stroke="#357d16" stroke-width="0.9"/>
<polygon points="889.5,1055.12 891.5,1051.32 979.5,1051.32 980,1055.12 979.5,1058.92 891.5,1058.92" fill="#4aa322" stroke="#357d16" stroke-width="0.9"/>
<rect x="934" y="1051.62" width="28.5" height="7" fill="#6f6f6f"/>
<line x1="462.5" y1="1070.97" x2="978" y2="1070.97" stroke="#5e5e5e" stroke-width="2.2"/>
<polygon points="460.5,1070.97 461,1067.17 568.2,1067.17 570.4,1070.97 568.2,1074.77 461,1074.77" fill="#4aa322" stroke="#357d16" stroke-width="0.9"/>
<polygon points="734.6,1070.97 736.6,1067.17 860.2,1067.17 862.4,1070.97 860.2,1074.77 736.6,1074.77" fill="#4aa322" stroke="#357d16" stroke-width="0.9"/>
<polygon points="889.5,1070.97 891.5,1067.17 979.5,1067.17 980,1070.97 979.5,1074.77 891.5,1074.77" fill="#4aa322" stroke="#357d16" stroke-width="0.9"/>
<rect x="943.9" y="1067.47" width="15" height="7" fill="#6f6f6f"/>
<line x1="462.5" y1="1086.81" x2="978" y2="1086.81" stroke="#5e5e5e" stroke-width="2.2"/>
<polygon points="460.5,1086.81 461,1083.01 568.2,1083.01 570.4,1086.81 568.2,1090.61 461,1090.61" fill="#4aa322" stroke="#357d16" stroke-width="0.9"/>
<polygon points="734.6,1086.81 736.6,1083.01 860.2,1083.01 862.4,1086.81 860.2,1090.61 736.6,1090.61" fill="#4aa322" stroke="#357d16" stroke-width="0.9"/>
<polygon points="889.5,1086.81 891.5,1083.01 979.5,1083.01 980,1086.81 979.5,1090.61 891.5,1090.61" fill="#4aa322" stroke="#357d16" stroke-width="0.9"/>
<rect x="943.9" y="1083.31" width="4.8" height="7" fill="#0a0a7a"/>
<rect x="952" y="1083.31" width="5" height="7" fill="#e00000"/>
<rect x="957" y="1083.31" width="3" height="7" fill="#0a0a7a"/>
<rect x="960" y="1083.31" width="6" height="7" fill="#e00000"/>
<line x1="462.5" y1="1102.66" x2="978" y2="1102.66" stroke="#5e5e5e" stroke-width="2.2"/>
<polygon points="460.5,1102.66 461,1098.86 568.2,1098.86 570.4,1102.66 568.2,1106.46 461,1106.46" fill="#4aa322" stroke="#357d16" stroke-width="0.9"/>
<polygon points="734.6,1102.66 736.6,1098.86 860.2,1098.86 862.4,1102.66 860.2,1106.46 736.6,1106.46" fill="#4aa322" stroke="#357d16" stroke-width="0.9"/>
<polygon points="889.5,1102.66 891.5,1098.86 979.5,1098.86 980,1102.66 979.5,1106.46 891.5,1106.46" fill="#4aa322" stroke="#357d16" stroke-width="0.9"/>
<rect x="943.9" y="1099.16" width="22.1" height="7" fill="#6f6f6f"/>
<line x1="462.5" y1="1118.51" x2="978" y2="1118.51" stroke="#5e5e5e" stroke-width="2.2"/>
<polygon points="460.5,1118.51 461,1114.71 568.2,1114.71 570.4,1118.51 568.2,1122.31 461,1122.31" fill="#4aa322" stroke="#357d16" stroke-width="0.9"/>
<polygon points="734.6,1118.51 736.6,1114.71 860.2,1114.71 862.4,1118.51 860.2,1122.31 736.6,1122.31" fill="#4aa322" stroke="#357d16" stroke-width="0.9"/>
<polygon points="889.5,1118.51 891.5,1114.71 979.5,1114.71 980,1118.51 979.5,1122.31 891.5,1122.31" fill="#4aa322" stroke="#357d16" stroke-width="0.9"/>
<rect x="943.9" y="1115.01" width="27.4" height="7" fill="#6f6f6f"/>
<line x1="462.5" y1="1134.35" x2="978" y2="1134.35" stroke="#5e5e5e" stroke-width="2.2"/>
<polygon points="460.5,1134.35 461,1130.55 568.2,1130.55 570.4,1134.35 568.2,1138.15 461,1138.15" fill="#4aa322" stroke="#357d16" stroke-width="0.9"/>
<polygon points="734.6,1134.35 736.6,1130.55 860.2,1130.55 862.4,1134.35 860.2,1138.15 736.6,1138.15" fill="#4aa322" stroke="#357d16" stroke-width="0.9"/>
<polygon points="889.5,1134.35 891.5,1130.55 979.5,1130.55 980,1134.35 979.5,1138.15 891.5,1138.15" fill="#4aa322" stroke="#357d16" stroke-width="0.9"/>
<rect x="953.2" y="1130.85" width="12.8" height="7" fill="#6f6f6f"/>
<line x1="462.5" y1="1150.2" x2="978" y2="1150.2" stroke="#5e5e5e" stroke-width="2.2"/>
<polygon points="460.5,1150.2 461,1146.4 568.2,1146.4 570.4,1150.2 568.2,1154 461,1154" fill="#4aa322" stroke="#357d16" stroke-width="0.9"/>
<polygon points="734.6,1150.2 736.6,1146.4 860.2,1146.4 862.4,1150.2 860.2,1154 736.6,1154" fill="#4aa322" stroke="#357d16" stroke-width="0.9"/>
<polygon points="889.5,1150.2 891.5,1146.4 979.5,1146.4 980,1150.2 979.5,1154 891.5,1154" fill="#4aa322" stroke="#357d16" stroke-width="0.9"/>
<rect x="943.9" y="1146.7" width="36.1" height="7" fill="#6f6f6f"/>
<line x1="462.5" y1="1166.04" x2="978" y2="1166.04" stroke="#5e5e5e" stroke-width="2.2"/>
<polygon points="460.5,1166.04 461,1162.24 568.2,1162.24 570.4,1166.04 568.2,1169.84 461,1169.84" fill="#4aa322" stroke="#357d16" stroke-width="0.9"/>
<polygon points="734.6,1166.04 736.6,1162.24 860.2,1162.24 862.4,1166.04 860.2,1169.84 736.6,1169.84" fill="#4aa322" stroke="#357d16" stroke-width="0.9"/>
<polygon points="889.5,1166.04 891.5,1162.24 979.5,1162.24 980,1166.04 979.5,1169.84 891.5,1169.84" fill="#4aa322" stroke="#357d16" stroke-width="0.9"/>
<rect x="948.5" y="1162.54" width="27.5" height="7" fill="#6f6f6f"/>
<line x1="462.5" y1="1181.89" x2="978" y2="1181.89" stroke="#5e5e5e" stroke-width="2.2"/>
<polygon points="460.5,1181.89 461,1178.09 568.2,1178.09 570.4,1181.89 568.2,1185.69 461,1185.69" fill="#4aa322" stroke="#357d16" stroke-width="0.9"/>
<polygon points="734.6,1181.89 736.6,1178.09 860.2,1178.09 862.4,1181.89 860.2,1185.69 736.6,1185.69" fill="#4aa322" stroke="#357d16" stroke-width="0.9"/>
<polygon points="889.5,1181.89 891.5,1178.09 979.5,1178.09 980,1181.89 979.5,1185.69 891.5,1185.69" fill="#4aa322" stroke="#357d16" stroke-width="0.9"/>
<rect x="957.3" y="1178.39" width="14.5" height="7" fill="#6f6f6f"/>
<path d="M450,1033.3 L434,1033.3 Q429,1033.3 429,1038.3 L429,1178 Q429,1183 434,1183 L450,1183" fill="none" stroke="#000" stroke-width="3.6" stroke-linecap="round" stroke-linejoin="round"/>
<line x1="372.7" y1="1110.5" x2="429" y2="1110.5" stroke="#000" stroke-width="3.6" stroke-linecap="round"/>
<text x="273" y="1118.6" class="gl" textLength="91" lengthAdjust="spacingAndGlyphs">Young S</text>
<line x1="362.5" y1="1197.74" x2="978" y2="1197.74" stroke="#5e5e5e" stroke-width="2.2"/>
<polygon points="360.5,1197.74 361,1193.94 495,1193.94 497.2,1197.74 495,1201.54 361,1201.54" fill="#4aa322" stroke="#357d16" stroke-width="0.9"/>
<polygon points="506.3,1197.74 508.3,1193.94 622.4,1193.94 624.6,1197.74 622.4,1201.54 508.3,1201.54" fill="#4aa322" stroke="#357d16" stroke-width="0.9"/>
<polygon points="862.8,1197.74 864.8,1193.94 979.5,1193.94 980,1197.74 979.5,1201.54 864.8,1201.54" fill="#4aa322" stroke="#357d16" stroke-width="0.9"/>
<line x1="362.5" y1="1213.58" x2="978" y2="1213.58" stroke="#5e5e5e" stroke-width="2.2"/>
<polygon points="360.5,1213.58 361,1209.78 495,1209.78 497.2,1213.58 495,1217.38 361,1217.38" fill="#4aa322" stroke="#357d16" stroke-width="0.9"/>
<polygon points="506.3,1213.58 508.3,1209.78 622.4,1209.78 624.6,1213.58 622.4,1217.38 508.3,1217.38" fill="#4aa322" stroke="#357d16" stroke-width="0.9"/>
<polygon points="862.8,1213.58 864.8,1209.78 979.5,1209.78 980,1213.58 979.5,1217.38 864.8,1217.38" fill="#4aa322" stroke="#357d16" stroke-width="0.9"/>
<rect x="469.6" y="1210.08" width="5.3" height="7" fill="#0a0a7a"/>
<ellipse cx="759.2" cy="1213.58" rx="2.3" ry="3.8" fill="#9a0a0a"/>
<line x1="362.5" y1="1229.43" x2="978" y2="1229.43" stroke="#5e5e5e" stroke-width="2.2"/>
<polygon points="360.5,1229.43 361,1225.63 495,1225.63 497.2,1229.43 495,1233.23 361,1233.23" fill="#4aa322" stroke="#357d16" stroke-width="0.9"/>
<polygon points="506.3,1229.43 508.3,1225.63 622.4,1225.63 624.6,1229.43 622.4,1233.23 508.3,1233.23" fill="#4aa322" stroke="#357d16" stroke-width="0.9"/>
<polygon points="862.8,1229.43 864.8,1225.63 979.5,1225.63 980,1229.43 979.5,1233.23 864.8,1233.23" fill="#4aa322" stroke="#357d16" stroke-width="0.9"/>
<rect x="364.4" y="1225.93" width="5.7" height="7" fill="#0a0a7a"/>
<rect x="373.8" y="1225.93" width="4.9" height="7" fill="#a00000"/>
<rect x="378.7" y="1225.93" width="4.5" height="7" fill="#0a0a7a"/>
<rect x="469.6" y="1225.93" width="5.3" height="7" fill="#0a0a7a"/>
<ellipse cx="759.2" cy="1229.43" rx="2.3" ry="3.8" fill="#9a0a0a"/>
<line x1="362.5" y1="1245.27" x2="978" y2="1245.27" stroke="#5e5e5e" stroke-width="2.2"/>
<polygon points="360.5,1245.27 361,1241.47 495,1241.47 497.2,1245.27 495,1249.07 361,1249.07" fill="#4aa322" stroke="#357d16" stroke-width="0.9"/>
<polygon points="506.3,1245.27 508.3,1241.47 622.4,1241.47 624.6,1245.27 622.4,1249.07 508.3,1249.07" fill="#4aa322" stroke="#357d16" stroke-width="0.9"/>
<polygon points="862.8,1245.27 864.8,1241.47 979.5,1241.47 980,1245.27 979.5,1249.07 864.8,1249.07" fill="#4aa322" stroke="#357d16" stroke-width="0.9"/>
<rect x="373.8" y="1241.77" width="4.9" height="7" fill="#a00000"/>
<rect x="378.7" y="1241.77" width="4.5" height="7" fill="#0a0a7a"/>
<rect x="406.1" y="1241.77" width="4.1" height="7" fill="#0a0a7a"/>
<rect x="469.6" y="1241.77" width="5.3" height="7" fill="#0a0a7a"/>
<ellipse cx="759.2" cy="1245.27" rx="2.3" ry="3.8" fill="#9a0a0a"/>
<line x1="362.5" y1="1261.12" x2="978" y2="1261.12" stroke="#5e5e5e" stroke-width="2.2"/>
<polygon points="360.5,1261.12 361,1257.32 495,1257.32 497.2,1261.12 495,1264.92 361,1264.92" fill="#4aa322" stroke="#357d16" stroke-width="0.9"/>
<polygon points="506.3,1261.12 508.3,1257.32 622.4,1257.32 624.6,1261.12 622.4,1264.92 508.3,1264.92" fill="#4aa322" stroke="#357d16" stroke-width="0.9"/>
<polygon points="862.8,1261.12 864.8,1257.32 979.5,1257.32 980,1261.12 979.5,1264.92 864.8,1264.92" fill="#4aa322" stroke="#357d16" stroke-width="0.9"/>
<rect x="377.5" y="1257.62" width="5.7" height="7" fill="#e00000"/>
<line x1="362.5" y1="1276.97" x2="978" y2="1276.97" stroke="#5e5e5e" stroke-width="2.2"/>
<polygon points="360.5,1276.97 361,1273.17 495,1273.17 497.2,1276.97 495,1280.77 361,1280.77" fill="#4aa322" stroke="#357d16" stroke-width="0.9"/>
<polygon points="506.3,1276.97 508.3,1273.17 622.4,1273.17 624.6,1276.97 622.4,1280.77 508.3,1280.77" fill="#4aa322" stroke="#357d16" stroke-width="0.9"/>
<polygon points="862.8,1276.97 864.8,1273.17 979.5,1273.17 980,1276.97 979.5,1280.77 864.8,1280.77" fill="#4aa322" stroke="#357d16" stroke-width="0.9"/>
<rect x="368.9" y="1273.47" width="9" height="7" fill="#e00000"/>
<rect x="377.9" y="1273.47" width="5.3" height="7" fill="#0a0a7a"/>
<rect x="469.6" y="1273.47" width="5.3" height="7" fill="#0a0a7a"/>
<ellipse cx="759.2" cy="1276.97" rx="2.3" ry="3.8" fill="#9a0a0a"/>
<line x1="362.5" y1="1292.81" x2="978" y2="1292.81" stroke="#5e5e5e" stroke-width="2.2"/>
<polygon points="360.5,1292.81 361,1289.01 495,1289.01 497.2,1292.81 495,1296.61 361,1296.61" fill="#4aa322" stroke="#357d16" stroke-width="0.9"/>
<polygon points="506.3,1292.81 508.3,1289.01 622.4,1289.01 624.6,1292.81 622.4,1296.61 508.3,1296.61" fill="#4aa322" stroke="#357d16" stroke-width="0.9"/>
<polygon points="862.8,1292.81 864.8,1289.01 979.5,1289.01 980,1292.81 979.5,1296.61 864.8,1296.61" fill="#4aa322" stroke="#357d16" stroke-width="0.9"/>
<rect x="374.2" y="1289.31" width="4.5" height="7" fill="#a00000"/>
<rect x="378.7" y="1289.31" width="4.5" height="7" fill="#0a0a7a"/>
<rect x="469.6" y="1289.31" width="5.3" height="7" fill="#0a0a7a"/>
<ellipse cx="759.2" cy="1292.81" rx="2.3" ry="3.8" fill="#9a0a0a"/>
<path d="M351.4,1191 L336,1191 Q331,1191 331,1196 L331,1294 Q331,1299 336,1299 L351.4,1299" fill="none" stroke="#000" stroke-width="3.6" stroke-linecap="round" stroke-linejoin="round"/>
<line x1="273.7" y1="1243.5" x2="331" y2="1243.5" stroke="#000" stroke-width="3.6" stroke-linecap="round"/>
<text x="169.6" y="1251.6" class="gl" textLength="95.4" lengthAdjust="spacingAndGlyphs">C4 ORF8</text>
<line x1="326.5" y1="1308.66" x2="978" y2="1308.66" stroke="#5e5e5e" stroke-width="2.2"/>
<polygon points="324.5,1308.66 325,1304.86 467.5,1304.86 469.7,1308.66 467.5,1312.46 325,1312.46" fill="#4aa322" stroke="#357d16" stroke-width="0.9"/>
<polygon points="629.7,1308.66 631.7,1304.86 746.4,1304.86 748.6,1308.66 746.4,1312.46 631.7,1312.46" fill="#4aa322" stroke="#357d16" stroke-width="0.9"/>
<polygon points="834.9,1308.66 836.9,1304.86 979.5,1304.86 980,1308.66 979.5,1312.46 836.9,1312.46" fill="#4aa322" stroke="#357d16" stroke-width="0.9"/>
<line x1="326.5" y1="1324.5" x2="978" y2="1324.5" stroke="#5e5e5e" stroke-width="2.2"/>
<polygon points="324.5,1324.5 325,1320.7 467.5,1320.7 469.7,1324.5 467.5,1328.3 325,1328.3" fill="#4aa322" stroke="#357d16" stroke-width="0.9"/>
<polygon points="629.7,1324.5 631.7,1320.7 746.4,1320.7 748.6,1324.5 746.4,1328.3 631.7,1328.3" fill="#4aa322" stroke="#357d16" stroke-width="0.9"/>
<polygon points="834.9,1324.5 836.9,1320.7 979.5,1320.7 980,1324.5 979.5,1328.3 836.9,1328.3" fill="#4aa322" stroke="#357d16" stroke-width="0.9"/>
<ellipse cx="837.5" cy="1324.5" rx="2.3" ry="3.8" fill="#9a0a0a"/>
<rect x="844" y="1321" width="8.7" height="7" fill="#0a0a7a"/>
<path d="M310.8,1302 L297,1302 Q292,1302 292,1307 L292,1325.6 Q292,1330.6 297,1330.6 L310.8,1330.6" fill="none" stroke="#000" stroke-width="3.6" stroke-linecap="round" stroke-linejoin="round"/>
<line x1="234.6" y1="1316.1" x2="292" y2="1316.1" stroke="#000" stroke-width="3.6" stroke-linecap="round"/>
<text x="118.8" y="1324.2" class="gl" textLength="107.2" lengthAdjust="spacingAndGlyphs">C3 ORF3a</text>
<line x1="490.5" y1="1340.35" x2="978" y2="1340.35" stroke="#5e5e5e" stroke-width="2.2"/>
<polygon points="488.5,1340.35 489,1336.55 568.6,1336.55 570.8,1340.35 568.6,1344.15 489,1344.15" fill="#4aa322" stroke="#357d16" stroke-width="0.9"/>
<polygon points="761.8,1340.35 763.8,1336.55 855.5,1336.55 857.7,1340.35 855.5,1344.15 763.8,1344.15" fill="#4aa322" stroke="#357d16" stroke-width="0.9"/>
<polygon points="898.4,1340.35 900.4,1336.55 979.5,1336.55 980,1340.35 979.5,1344.15 900.4,1344.15" fill="#4aa322" stroke="#357d16" stroke-width="0.9"/>
<line x1="490.5" y1="1356.2" x2="978" y2="1356.2" stroke="#5e5e5e" stroke-width="2.2"/>
<polygon points="488.5,1356.2 489,1352.4 568.6,1352.4 570.8,1356.2 568.6,1360 489,1360" fill="#4aa322" stroke="#357d16" stroke-width="0.9"/>
<polygon points="761.8,1356.2 763.8,1352.4 855.5,1352.4 857.7,1356.2 855.5,1360 763.8,1360" fill="#4aa322" stroke="#357d16" stroke-width="0.9"/>
<polygon points="898.4,1356.2 900.4,1352.4 979.5,1352.4 980,1356.2 979.5,1360 900.4,1360" fill="#4aa322" stroke="#357d16" stroke-width="0.9"/>
<rect x="547" y="1352.7" width="13.6" height="7" fill="#6f6f6f"/>
<path d="M475.8,1333.3 L460.5,1333.3 Q455.5,1333.3 455.5,1338.3 L455.5,1357.8 Q455.5,1362.8 460.5,1362.8 L475.8,1362.8" fill="none" stroke="#000" stroke-width="3.6" stroke-linecap="round" stroke-linejoin="round"/>
<line x1="399.6" y1="1349.1" x2="455.5" y2="1349.1" stroke="#000" stroke-width="3.6" stroke-linecap="round"/>
<text x="278.8" y="1357.2" class="gl" textLength="114.7" lengthAdjust="spacingAndGlyphs">France IP2</text>
<line x1="380.3" y1="1372.04" x2="978" y2="1372.04" stroke="#5e5e5e" stroke-width="2.2"/>
<polygon points="378.3,1372.04 378.8,1368.24 472.1,1368.24 474.3,1372.04 472.1,1375.84 378.8,1375.84" fill="#4aa322" stroke="#357d16" stroke-width="0.9"/>
<polygon points="547,1372.04 549,1368.24 653.8,1368.24 656,1372.04 653.8,1375.84 549,1375.84" fill="#4aa322" stroke="#357d16" stroke-width="0.9"/>
<polygon points="889.7,1372.04 891.7,1368.24 979.5,1368.24 980,1372.04 979.5,1375.84 891.7,1375.84" fill="#4aa322" stroke="#357d16" stroke-width="0.9"/>
<line x1="380.3" y1="1387.89" x2="978" y2="1387.89" stroke="#5e5e5e" stroke-width="2.2"/>
<polygon points="378.3,1387.89 378.8,1384.09 472.1,1384.09 474.3,1387.89 472.1,1391.69 378.8,1391.69" fill="#4aa322" stroke="#357d16" stroke-width="0.9"/>
<polygon points="547,1387.89 549,1384.09 653.8,1384.09 656,1387.89 653.8,1391.69 549,1391.69" fill="#4aa322" stroke="#357d16" stroke-width="0.9"/>
<polygon points="889.7,1387.89 891.7,1384.09 979.5,1384.09 980,1387.89 979.5,1391.69 891.7,1391.69" fill="#4aa322" stroke="#357d16" stroke-width="0.9"/>
<rect x="420" y="1384.39" width="13.7" height="7" fill="#6f6f6f"/>
<path d="M369.2,1365.2 L356.4,1365.2 Q351.4,1365.2 351.4,1370.2 L351.4,1388.3 Q351.4,1393.3 356.4,1393.3 L369.2,1393.3" fill="none" stroke="#000" stroke-width="3.6" stroke-linecap="round" stroke-linejoin="round"/>
<line x1="293" y1="1379.5" x2="351.4" y2="1379.5" stroke="#000" stroke-width="3.6" stroke-linecap="round"/>
<text x="154.8" y="1387.6" class="gl" textLength="130.6" lengthAdjust="spacingAndGlyphs">HKU ORF1b</text>
<line x1="262.7" y1="1403.73" x2="978" y2="1403.73" stroke="#5e5e5e" stroke-width="2.2"/>
<polygon points="260.7,1403.73 261.2,1399.93 348.8,1399.93 351,1403.73 348.8,1407.53 261.2,1407.53" fill="#4aa322" stroke="#357d16" stroke-width="0.9"/>
<polygon points="447.5,1403.73 449.5,1399.93 536.8,1399.93 539,1403.73 536.8,1407.53 449.5,1407.53" fill="#4aa322" stroke="#357d16" stroke-width="0.9"/>
<polygon points="890.5,1403.73 892.5,1399.93 979.5,1399.93 980,1403.73 979.5,1407.53 892.5,1407.53" fill="#4aa322" stroke="#357d16" stroke-width="0.9"/>
<line x1="262.7" y1="1419.58" x2="978" y2="1419.58" stroke="#5e5e5e" stroke-width="2.2"/>
<polygon points="260.7,1419.58 261.2,1415.78 348.8,1415.78 351,1419.58 348.8,1423.38 261.2,1423.38" fill="#4aa322" stroke="#357d16" stroke-width="0.9"/>
<polygon points="447.5,1419.58 449.5,1415.78 536.8,1415.78 539,1419.58 536.8,1423.38 449.5,1423.38" fill="#4aa322" stroke="#357d16" stroke-width="0.9"/>
<polygon points="890.5,1419.58 892.5,1415.78 979.5,1415.78 980,1419.58 979.5,1423.38 892.5,1423.38" fill="#4aa322" stroke="#357d16" stroke-width="0.9"/>
<rect x="296" y="1416.08" width="4" height="7" fill="#0a0a7a"/>
<rect x="305" y="1416.08" width="4" height="7" fill="#0a0a7a"/>
<line x1="262.7" y1="1435.43" x2="978" y2="1435.43" stroke="#5e5e5e" stroke-width="2.2"/>
<polygon points="260.7,1435.43 261.2,1431.63 348.8,1431.63 351,1435.43 348.8,1439.23 261.2,1439.23" fill="#4aa322" stroke="#357d16" stroke-width="0.9"/>
<polygon points="447.5,1435.43 449.5,1431.63 536.8,1431.63 539,1435.43 536.8,1439.23 449.5,1439.23" fill="#4aa322" stroke="#357d16" stroke-width="0.9"/>
<polygon points="890.5,1435.43 892.5,1431.63 979.5,1431.63 980,1435.43 979.5,1439.23 892.5,1439.23" fill="#4aa322" stroke="#357d16" stroke-width="0.9"/>
<rect x="260.7" y="1431.93" width="3.3" height="7" fill="#0a0a7a"/>
<rect x="333" y="1431.93" width="4" height="7" fill="#0a0a7a"/>
<path d="M251,1399 L235,1399 Q230,1399 230,1404 L230,1438 Q230,1443 235,1443 L251,1443" fill="none" stroke="#000" stroke-width="3.6" stroke-linecap="round" stroke-linejoin="round"/>
<line x1="173.8" y1="1419.5" x2="230" y2="1419.5" stroke="#000" stroke-width="3.6" stroke-linecap="round"/>
<text x="77.3" y="1427.6" class="gl" textLength="87.5" lengthAdjust="spacingAndGlyphs">Japan N</text>
<line x1="576.5" y1="1451.27" x2="978" y2="1451.27" stroke="#5e5e5e" stroke-width="2.2"/>
<polygon points="574.5,1451.27 575,1447.47 682.3,1447.47 684.5,1451.27 682.3,1455.07 575,1455.07" fill="#4aa322" stroke="#357d16" stroke-width="0.9"/>
<polygon points="702.6,1451.27 704.6,1447.47 804.8,1447.47 807,1451.27 804.8,1455.07 704.6,1455.07" fill="#4aa322" stroke="#357d16" stroke-width="0.9"/>
<polygon points="872,1451.27 874,1447.47 979.5,1447.47 980,1451.27 979.5,1455.07 874,1455.07" fill="#4aa322" stroke="#357d16" stroke-width="0.9"/>
<line x1="576.5" y1="1467.12" x2="978" y2="1467.12" stroke="#5e5e5e" stroke-width="2.2"/>
<polygon points="574.5,1467.12 575,1463.32 682.3,1463.32 684.5,1467.12 682.3,1470.92 575,1470.92" fill="#4aa322" stroke="#357d16" stroke-width="0.9"/>
<polygon points="702.6,1467.12 704.6,1463.32 804.8,1463.32 807,1467.12 804.8,1470.92 704.6,1470.92" fill="#4aa322" stroke="#357d16" stroke-width="0.9"/>
<polygon points="872,1467.12 874,1463.32 979.5,1463.32 980,1467.12 979.5,1470.92 874,1470.92" fill="#4aa322" stroke="#357d16" stroke-width="0.9"/>
<rect x="656.3" y="1463.62" width="3.7" height="7" fill="#0a0a7a"/>
<rect x="664.8" y="1463.62" width="10.7" height="7" fill="#e00000"/>
<path d="M566,1445.1 L549.6,1445.1 Q544.6,1445.1 544.6,1450.1 L544.6,1467.9 Q544.6,1472.9 549.6,1472.9 L566,1472.9" fill="none" stroke="#000" stroke-width="3.6" stroke-linecap="round" stroke-linejoin="round"/>
<line x1="488.7" y1="1460.3" x2="544.6" y2="1460.3" stroke="#000" stroke-width="3.6" stroke-linecap="round"/>
<text x="320" y="1468.4" class="gl" textLength="164" lengthAdjust="spacingAndGlyphs">Young ORF1ab</text>
<line x1="216.4" y1="1482.96" x2="978" y2="1482.96" stroke="#5e5e5e" stroke-width="2.2"/>
<polygon points="214.4,1482.96 214.9,1479.16 303.1,1479.16 305.3,1482.96 303.1,1486.76 214.9,1486.76" fill="#4aa322" stroke="#357d16" stroke-width="0.9"/>
<polygon points="528.8,1482.96 530.8,1479.16 640,1479.16 642.2,1482.96 640,1486.76 530.8,1486.76" fill="#4aa322" stroke="#357d16" stroke-width="0.9"/>
<polygon points="890.5,1482.96 892.5,1479.16 979.5,1479.16 980,1482.96 979.5,1486.76 892.5,1486.76" fill="#4aa322" stroke="#357d16" stroke-width="0.9"/>
<line x1="216.4" y1="1498.81" x2="978" y2="1498.81" stroke="#5e5e5e" stroke-width="2.2"/>
<polygon points="214.4,1498.81 214.9,1495.01 303.1,1495.01 305.3,1498.81 303.1,1502.61 214.9,1502.61" fill="#4aa322" stroke="#357d16" stroke-width="0.9"/>
<polygon points="528.8,1498.81 530.8,1495.01 640,1495.01 642.2,1498.81 640,1502.61 530.8,1502.61" fill="#4aa322" stroke="#357d16" stroke-width="0.9"/>
<polygon points="890.5,1498.81 892.5,1495.01 979.5,1495.01 980,1498.81 979.5,1502.61 892.5,1502.61" fill="#4aa322" stroke="#357d16" stroke-width="0.9"/>
<rect x="921" y="1495.31" width="5.8" height="7" fill="#0a0a7a"/>
<rect x="934.6" y="1495.31" width="10.2" height="7" fill="#e00000"/>
<path d="M207.7,1475.6 L190,1475.6 Q185,1475.6 185,1480.6 L185,1500 Q185,1505 190,1505 L207.7,1505" fill="none" stroke="#000" stroke-width="3.6" stroke-linecap="round" stroke-linejoin="round"/>
<line x1="129.8" y1="1490.3" x2="185" y2="1490.3" stroke="#000" stroke-width="3.6" stroke-linecap="round"/>
<text x="18.6" y="1498.4" class="gl" textLength="101" lengthAdjust="spacingAndGlyphs">Noblis.40</text>
<line x1="476" y1="1514.66" x2="978" y2="1514.66" stroke="#5e5e5e" stroke-width="2.2"/>
<polygon points="474,1514.66 474.5,1510.86 581.8,1510.86 584,1514.66 581.8,1518.46 474.5,1518.46" fill="#4aa322" stroke="#357d16" stroke-width="0.9"/>
<polygon points="890.5,1514.66 892.5,1510.86 979.5,1510.86 980,1514.66 979.5,1518.46 892.5,1518.46" fill="#4aa322" stroke="#357d16" stroke-width="0.9"/>
<line x1="476" y1="1530.5" x2="978" y2="1530.5" stroke="#5e5e5e" stroke-width="2.2"/>
<polygon points="474,1530.5 474.5,1526.7 581.8,1526.7 584,1530.5 581.8,1534.3 474.5,1534.3" fill="#4aa322" stroke="#357d16" stroke-width="0.9"/>
<polygon points="890.5,1530.5 892.5,1526.7 979.5,1526.7 980,1530.5 979.5,1534.3 892.5,1534.3" fill="#4aa322" stroke="#357d16" stroke-width="0.9"/>
<rect x="574" y="1527" width="5.7" height="7" fill="#0a0a7a"/>
<rect x="939" y="1527" width="5.8" height="7" fill="#a00000"/>
<rect x="953.1" y="1527" width="5.9" height="7" fill="#0a0a7a"/>
<line x1="476" y1="1546.35" x2="978" y2="1546.35" stroke="#5e5e5e" stroke-width="2.2"/>
<polygon points="474,1546.35 474.5,1542.55 581.8,1542.55 584,1546.35 581.8,1550.15 474.5,1550.15" fill="#4aa322" stroke="#357d16" stroke-width="0.9"/>
<polygon points="890.5,1546.35 892.5,1542.55 979.5,1542.55 980,1546.35 979.5,1550.15 892.5,1550.15" fill="#4aa322" stroke="#357d16" stroke-width="0.9"/>
<rect x="939" y="1542.85" width="5.8" height="7" fill="#a00000"/>
<rect x="953.1" y="1542.85" width="5.9" height="7" fill="#0a0a7a"/>
<line x1="476" y1="1562.19" x2="978" y2="1562.19" stroke="#5e5e5e" stroke-width="2.2"/>
<polygon points="474,1562.19 474.5,1558.39 581.8,1558.39 584,1562.19 581.8,1565.99 474.5,1565.99" fill="#4aa322" stroke="#357d16" stroke-width="0.9"/>
<polygon points="890.5,1562.19 892.5,1558.39 979.5,1558.39 980,1562.19 979.5,1565.99 892.5,1565.99" fill="#4aa322" stroke="#357d16" stroke-width="0.9"/>
<rect x="574" y="1558.69" width="5.7" height="7" fill="#0a0a7a"/>
<path d="M465.6,1509.6 L450.8,1509.6 Q445.8,1509.6 445.8,1514.6 L445.8,1558.8 Q445.8,1563.8 450.8,1563.8 L465.6,1563.8" fill="none" stroke="#000" stroke-width="3.6" stroke-linecap="round" stroke-linejoin="round"/>
<line x1="389.4" y1="1537.1" x2="445.8" y2="1537.1" stroke="#000" stroke-width="3.6" stroke-linecap="round"/>
<text x="274.8" y="1545.2" class="gl" textLength="104.4" lengthAdjust="spacingAndGlyphs">BVP 501Y</text>
<line x1="476" y1="1578.04" x2="978" y2="1578.04" stroke="#5e5e5e" stroke-width="2.2"/>
<polygon points="474,1578.04 474.5,1574.24 581.8,1574.24 584,1578.04 581.8,1581.84 474.5,1581.84" fill="#4aa322" stroke="#357d16" stroke-width="0.9"/>
<polygon points="890.5,1578.04 892.5,1574.24 979.5,1574.24 980,1578.04 979.5,1581.84 892.5,1581.84" fill="#4aa322" stroke="#357d16" stroke-width="0.9"/>
<line x1="476" y1="1593.89" x2="978" y2="1593.89" stroke="#5e5e5e" stroke-width="2.2"/>
<polygon points="474,1593.89 474.5,1590.09 581.8,1590.09 584,1593.89 581.8,1597.69 474.5,1597.69" fill="#4aa322" stroke="#357d16" stroke-width="0.9"/>
<polygon points="890.5,1593.89 892.5,1590.09 979.5,1590.09 980,1593.89 979.5,1597.69 892.5,1597.69" fill="#4aa322" stroke="#357d16" stroke-width="0.9"/>
<rect x="574" y="1590.39" width="5.7" height="7" fill="#0a0a7a"/>
<rect x="939" y="1590.39" width="5.8" height="7" fill="#a00000"/>
<rect x="953.1" y="1590.39" width="5.9" height="7" fill="#0a0a7a"/>
<line x1="476" y1="1609.73" x2="978" y2="1609.73" stroke="#5e5e5e" stroke-width="2.2"/>
<polygon points="474,1609.73 474.5,1605.93 581.8,1605.93 584,1609.73 581.8,1613.53 474.5,1613.53" fill="#4aa322" stroke="#357d16" stroke-width="0.9"/>
<polygon points="890.5,1609.73 892.5,1605.93 979.5,1605.93 980,1609.73 979.5,1613.53 892.5,1613.53" fill="#4aa322" stroke="#357d16" stroke-width="0.9"/>
<rect x="939" y="1606.23" width="5.8" height="7" fill="#a00000"/>
<rect x="953.1" y="1606.23" width="5.9" height="7" fill="#0a0a7a"/>
<line x1="476" y1="1625.58" x2="978" y2="1625.58" stroke="#5e5e5e" stroke-width="2.2"/>
<polygon points="474,1625.58 474.5,1621.78 581.8,1621.78 584,1625.58 581.8,1629.38 474.5,1629.38" fill="#4aa322" stroke="#357d16" stroke-width="0.9"/>
<polygon points="890.5,1625.58 892.5,1621.78 979.5,1621.78 980,1625.58 979.5,1629.38 892.5,1629.38" fill="#4aa322" stroke="#357d16" stroke-width="0.9"/>
<rect x="574" y="1622.08" width="5.7" height="7" fill="#0a0a7a"/>
<path d="M465.6,1571.7 L450.8,1571.7 Q445.8,1571.7 445.8,1576.7 L445.8,1622 Q445.8,1627 450.8,1627 L465.6,1627" fill="none" stroke="#000" stroke-width="3.6" stroke-linecap="round" stroke-linejoin="round"/>
<line x1="389.4" y1="1599.2" x2="445.8" y2="1599.2" stroke="#000" stroke-width="3.6" stroke-linecap="round"/>
<text x="221.2" y="1607.3" class="gl" textLength="158" lengthAdjust="spacingAndGlyphs">BVP 501Y_omi</text>
<line x1="226" y1="137.4" x2="980.5" y2="137.4" stroke="#000" stroke-width="2.9"/>
<polygon points="211.7,137.4 229.5,128.9 229.5,146.3" fill="#000"/>
<polygon points="617.8,137.5 620.8,133.6 623.8,137.5" fill="#000"/>
<circle cx="258.2" cy="129.6" r="0.9" fill="#555"/>
<text x="258.2" y="122.3" class="tk" text-anchor="middle">160</text>
<circle cx="348.5" cy="129.6" r="0.9" fill="#555"/>
<text x="348.5" y="122.3" class="tk" text-anchor="middle">140</text>
<circle cx="439.7" cy="129.6" r="0.9" fill="#555"/>
<text x="439.7" y="122.3" class="tk" text-anchor="middle">120</text>
<circle cx="530" cy="129.6" r="0.9" fill="#555"/>
<text x="530" y="122.3" class="tk" text-anchor="middle">100</text>
<circle cx="620.8" cy="129.6" r="0.9" fill="#555"/>
<text x="620.8" y="122.3" class="tk" text-anchor="middle">80</text>
<circle cx="711.6" cy="129.6" r="0.9" fill="#555"/>
<text x="711.6" y="122.3" class="tk" text-anchor="middle">60</text>
<circle cx="802" cy="129.6" r="0.9" fill="#555"/>
<text x="802" y="122.3" class="tk" text-anchor="middle">40</text>
<circle cx="892.2" cy="129.6" r="0.9" fill="#555"/>
<text x="892.2" y="122.3" class="tk" text-anchor="middle">20</text>
<circle cx="977" cy="129.6" r="0.9" fill="#555"/>
<text x="977" y="122.3" class="tk" text-anchor="middle">0</text>
<text x="79" y="92.6" class="tt" textLength="909" lengthAdjust="spacingAndGlyphs">Template sequence, in reverse orientation (reverse primer on the left; forward primer on the right)</text>
<text transform="translate(1587.3,936) rotate(-90)" class="ti" textLength="96" lengthAdjust="spacingAndGlyphs">Template ID</text>
<linearGradient id="g1" x1="0" y1="0" x2="0" y2="1"><stop offset="0" stop-color="#006837"/><stop offset="0.05" stop-color="#0c7f43"/><stop offset="0.1" stop-color="#199750"/><stop offset="0.15" stop-color="#3faa59"/><stop offset="0.2" stop-color="#66bd63"/><stop offset="0.25" stop-color="#84ca66"/><stop offset="0.3" stop-color="#a5d86a"/><stop offset="0.35" stop-color="#bfe47a"/><stop offset="0.4" stop-color="#d9ef8b"/><stop offset="0.45" stop-color="#ecf7a6"/><stop offset="0.5" stop-color="#feffbe"/><stop offset="0.55" stop-color="#fff0a6"/><stop offset="0.6" stop-color="#fee08b"/><stop offset="0.65" stop-color="#fdc776"/><stop offset="0.7" stop-color="#fdad60"/><stop offset="0.75" stop-color="#f98e52"/><stop offset="0.8" stop-color="#f46d43"/><stop offset="0.85" stop-color="#e54e35"/><stop offset="0.9" stop-color="#d62f27"/><stop offset="0.95" stop-color="#bd1726"/><stop offset="1" stop-color="#a50026"/></linearGradient>
<rect x="1637.4" y="1433.5" width="8.2" height="151.5" fill="url(#g1)" stroke="#333" stroke-width="0.9"/>
<linearGradient id="g2" x1="0" y1="0" x2="0" y2="1"><stop offset="0" stop-color="#b40426"/><stop offset="0.05" stop-color="#c53334"/><stop offset="0.1" stop-color="#d65244"/><stop offset="0.15" stop-color="#e36c55"/><stop offset="0.2" stop-color="#ee8468"/><stop offset="0.25" stop-color="#f4987a"/><stop offset="0.3" stop-color="#f7ac8e"/><stop offset="0.35" stop-color="#f6bda2"/><stop offset="0.4" stop-color="#f2cbb7"/><stop offset="0.45" stop-color="#e9d5cb"/><stop offset="0.5" stop-color="#dddcdc"/><stop offset="0.55" stop-color="#cfdaea"/><stop offset="0.6" stop-color="#c0d4f5"/><stop offset="0.65" stop-color="#afcafc"/><stop offset="0.7" stop-color="#9ebeff"/><stop offset="0.75" stop-color="#8db0fe"/><stop offset="0.8" stop-color="#7b9ff9"/><stop offset="0.85" stop-color="#6a8bef"/><stop offset="0.9" stop-color="#5977e3"/><stop offset="0.95" stop-color="#4961d2"/><stop offset="1" stop-color="#3b4cc0"/></linearGradient>
<rect x="1688" y="1433.5" width="8.2" height="151.5" fill="url(#g2)" stroke="#333" stroke-width="0.9"/>
<linearGradient id="g3" x1="0" y1="0" x2="0" y2="1"><stop offset="0" stop-color="#49006a"/><stop offset="0.05" stop-color="#5b006f"/><stop offset="0.1" stop-color="#6f0174"/><stop offset="0.15" stop-color="#840178"/><stop offset="0.2" stop-color="#99017b"/><stop offset="0.25" stop-color="#ad017e"/><stop offset="0.3" stop-color="#c01588"/><stop offset="0.35" stop-color="#d32992"/><stop offset="0.4" stop-color="#e23e99"/><stop offset="0.45" stop-color="#ed549d"/><stop offset="0.5" stop-color="#f767a1"/><stop offset="0.55" stop-color="#f87ea9"/><stop offset="0.6" stop-color="#f994b1"/><stop offset="0.65" stop-color="#faa7b7"/><stop offset="0.7" stop-color="#fbb6bc"/><stop offset="0.75" stop-color="#fcc5c0"/><stop offset="0.8" stop-color="#fcd0cc"/><stop offset="0.85" stop-color="#fddbd7"/><stop offset="0.9" stop-color="#fde5e2"/><stop offset="0.95" stop-color="#feeeeb"/><stop offset="1" stop-color="#fff7f3"/></linearGradient>
<rect x="1738.8" y="1433.5" width="8.2" height="151.5" fill="url(#g3)" stroke="#333" stroke-width="0.9"/>
<line x1="1631.3" y1="1434.5" x2="1637.4" y2="1434.5" stroke="#333" stroke-width="1.3"/>
<text x="1627" y="1439.1" class="cb" text-anchor="end">0</text>
<line x1="1631.3" y1="1468.7" x2="1637.4" y2="1468.7" stroke="#333" stroke-width="1.3"/>
<text x="1627" y="1473.3" class="cb" text-anchor="end">−10</text>
<line x1="1631.3" y1="1504.1" x2="1637.4" y2="1504.1" stroke="#333" stroke-width="1.3"/>
<text x="1627" y="1508.7" class="cb" text-anchor="end">−20</text>
<line x1="1631.3" y1="1539.3" x2="1637.4" y2="1539.3" stroke="#333" stroke-width="1.3"/>
<text x="1627" y="1543.9" class="cb" text-anchor="end">−30</text>
<line x1="1631.3" y1="1574.4" x2="1637.4" y2="1574.4" stroke="#333" stroke-width="1.3"/>
<text x="1627" y="1579" class="cb" text-anchor="end">−40</text>
<line x1="1682" y1="1479.5" x2="1688" y2="1479.5" stroke="#333" stroke-width="1.3"/>
<text x="1676" y="1484.1" class="cb" text-anchor="end">60</text>
<line x1="1682" y1="1533.6" x2="1688" y2="1533.6" stroke="#333" stroke-width="1.3"/>
<text x="1676" y="1538.2" class="cb" text-anchor="end">40</text>
<line x1="1732.5" y1="1446.4" x2="1738.8" y2="1446.4" stroke="#333" stroke-width="1.3"/>
<text x="1726.5" y="1451" class="cb" text-anchor="end">1.0</text>
<line x1="1732.5" y1="1488.3" x2="1738.8" y2="1488.3" stroke="#333" stroke-width="1.3"/>
<text x="1726.5" y="1492.9" class="cb" text-anchor="end">0.8</text>
<line x1="1732.5" y1="1530.2" x2="1738.8" y2="1530.2" stroke="#333" stroke-width="1.3"/>
<text x="1726.5" y="1534.8" class="cb" text-anchor="end">0.6</text>
<line x1="1732.5" y1="1572.1" x2="1738.8" y2="1572.1" stroke="#333" stroke-width="1.3"/>
<text x="1726.5" y="1576.7" class="cb" text-anchor="end">0.4</text>
<text transform="translate(1644.5,1412.2) rotate(-90)" class="cl" textLength="70.4" lengthAdjust="spacingAndGlyphs">tm_delta</text>
<text transform="translate(1696,1416.2) rotate(-90)" class="cl" textLength="231" lengthAdjust="spacingAndGlyphs">Cycles to threshold and y-int</text>
<text transform="translate(1747.5,1413) rotate(-90)" class="cl" textLength="77.5" lengthAdjust="spacingAndGlyphs">Efficiency</text>
<text x="1634.6" y="1617.4" class="hk" textLength="113.6" lengthAdjust="spacingAndGlyphs">Heat map key</text>
</svg>
</body></html>
